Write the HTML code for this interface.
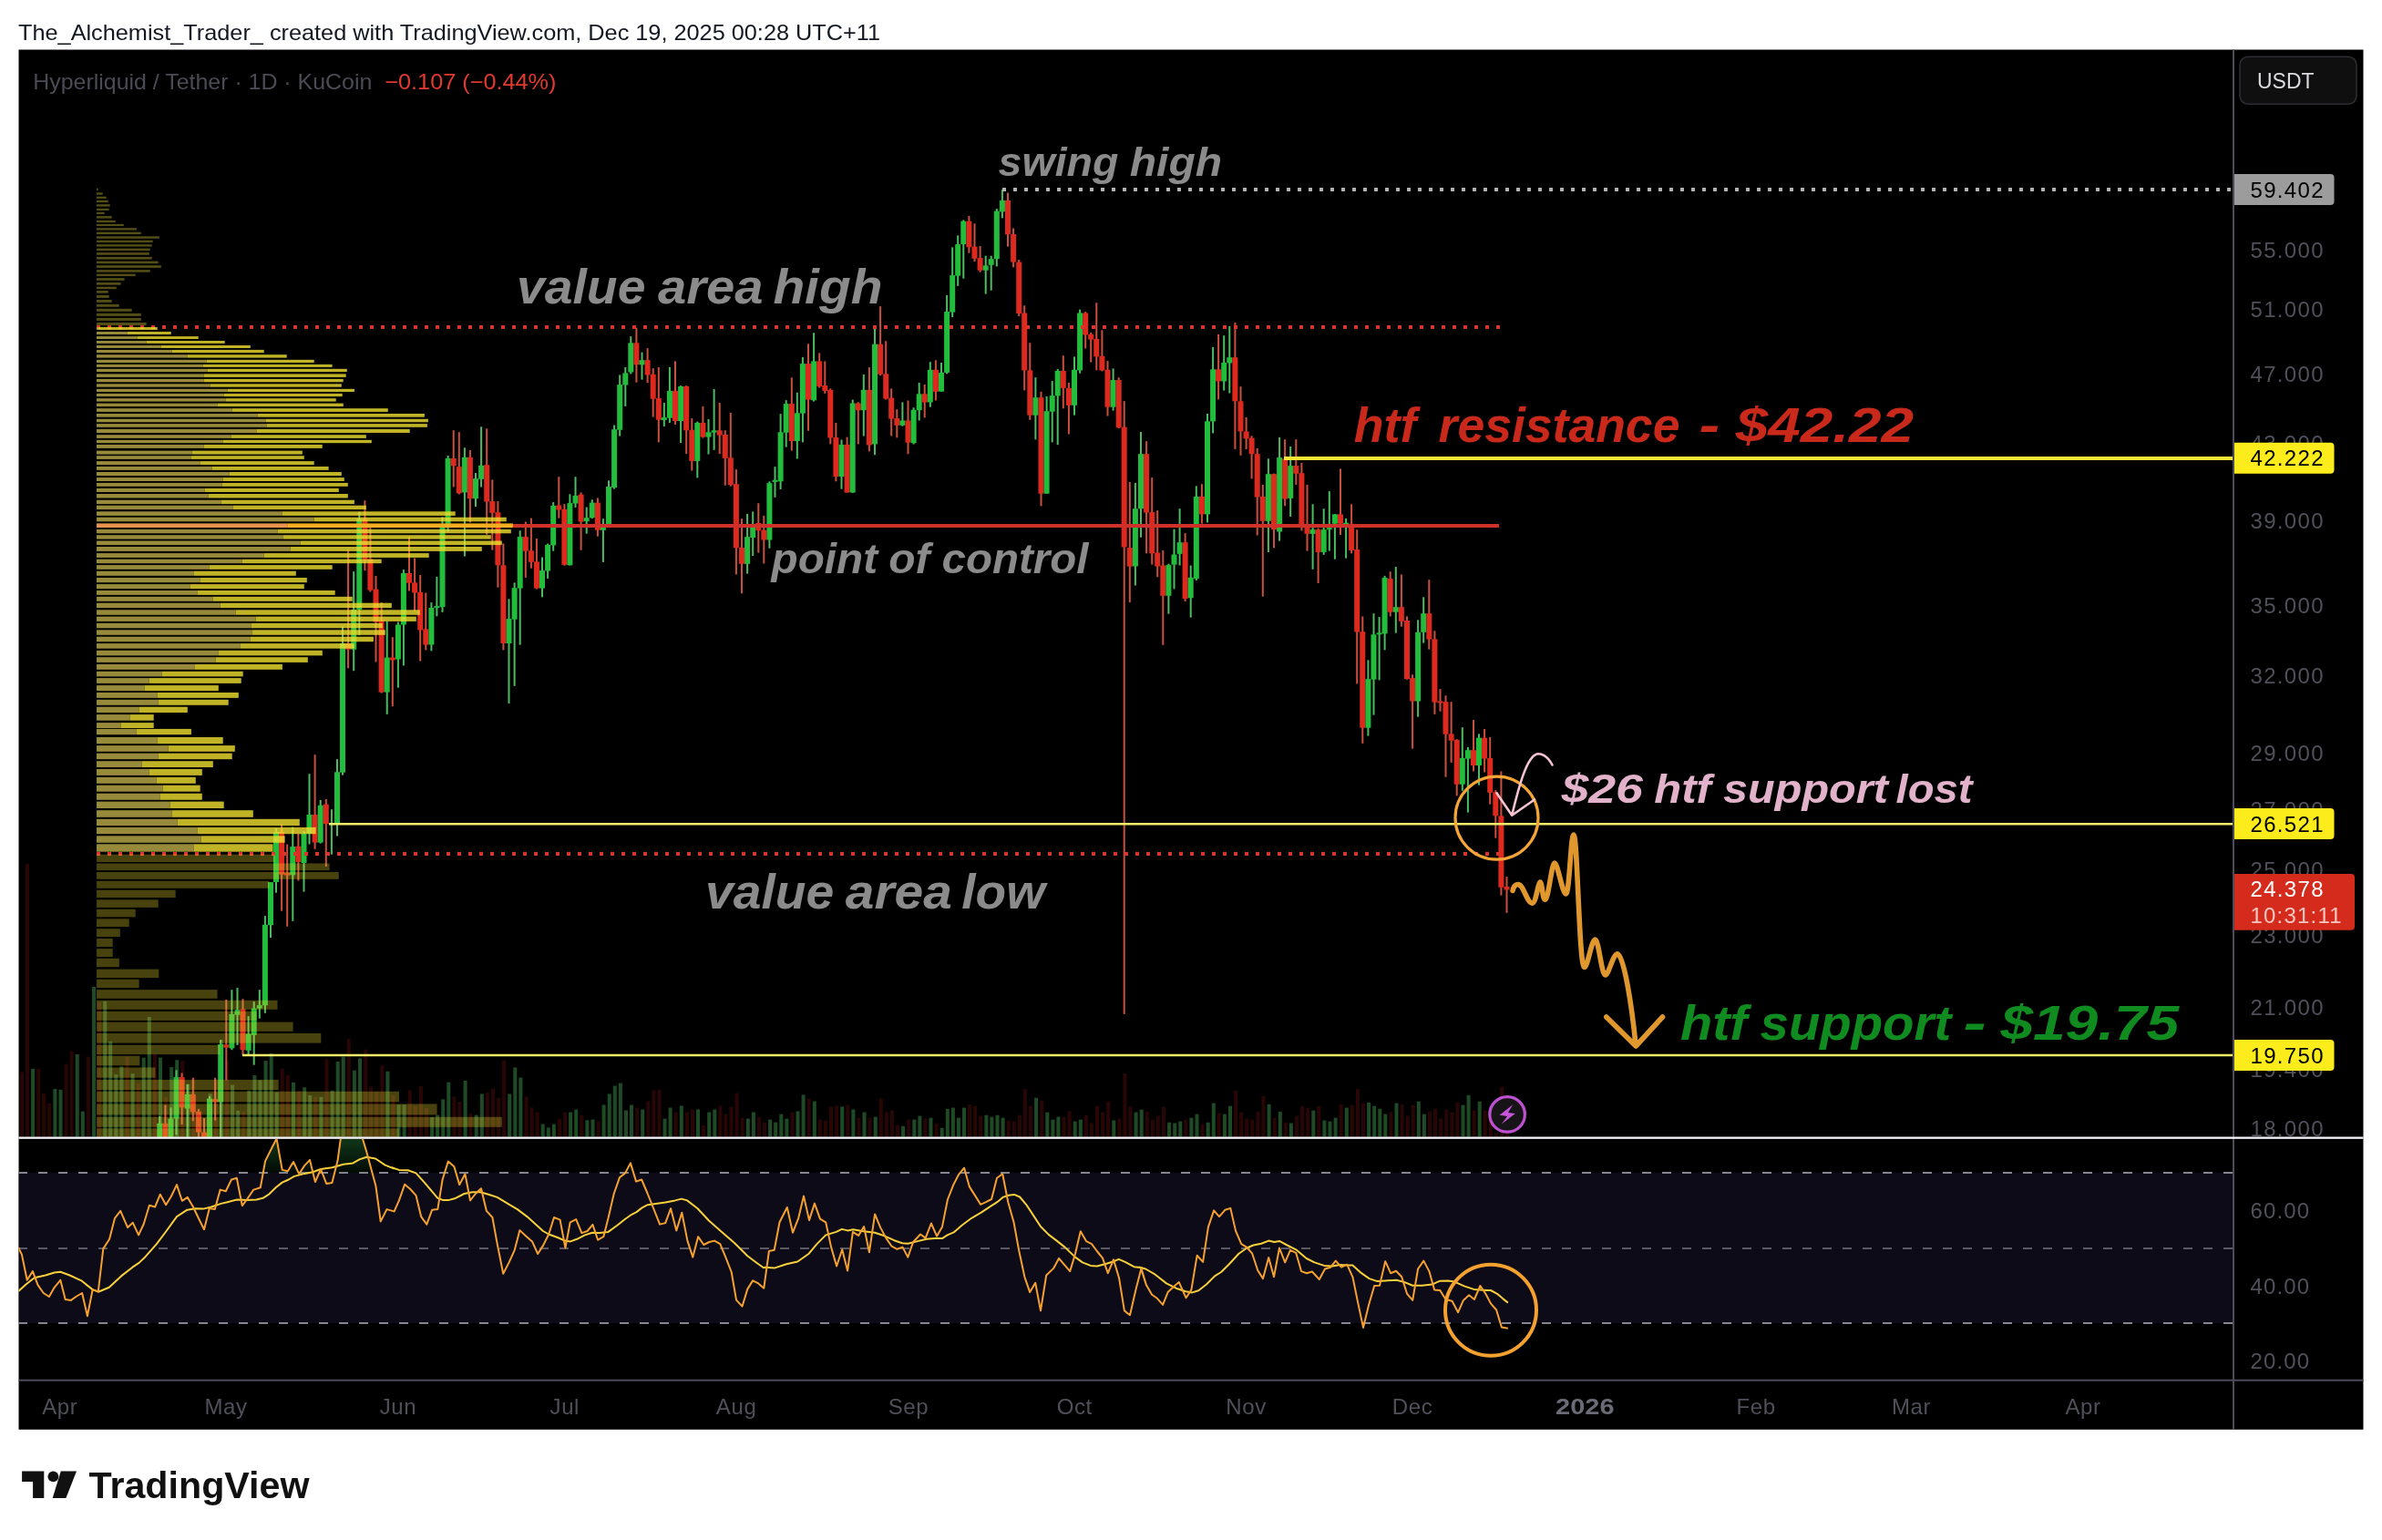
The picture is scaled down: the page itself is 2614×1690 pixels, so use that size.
<!DOCTYPE html>
<html><head><meta charset="utf-8"><title>HYPEUSDT chart</title><style>html,body{margin:0;padding:0;background:#fff}svg{display:block;will-change:transform}</style></head><body>
<svg width="2614" height="1690" viewBox="0 0 2614 1690" font-family='"Liberation Sans", sans-serif'>
<defs>
<clipPath id="cp"><rect x="20.5" y="54.5" width="2430.5" height="1193.5"/></clipPath>
<clipPath id="cr"><rect x="20.5" y="1250" width="2430.5" height="264"/></clipPath>
<clipPath id="c70"><rect x="21" y="1250" width="2430" height="37"/></clipPath>
<linearGradient id="gg" gradientUnits="userSpaceOnUse" x1="0" y1="1250" x2="0" y2="1287"><stop offset="0" stop-color="#1a5a2a" stop-opacity="0.6"/><stop offset="1" stop-color="#1a5a2a" stop-opacity="0.12"/></linearGradient>
</defs>
<rect width="2614" height="1690" fill="#fff"/>
<text x="20" y="44.3" font-size="24" fill="#131722" textLength="946" lengthAdjust="spacingAndGlyphs">The_Alchemist_Trader_ created with TradingView.com, Dec 19, 2025 00:28 UTC+11</text>
<rect x="20.5" y="54.5" width="2573" height="1514.3" fill="#000"/>
<g clip-path="url(#cr)">
<rect x="20.5" y="1287" width="2430.5" height="165" fill="#0e0b18"/>
<line x1="20" y1="1287" x2="2450" y2="1287" stroke="#8d8d99" stroke-width="2" stroke-dasharray="10 12" opacity="0.95"/>
<line x1="20" y1="1370" x2="2450" y2="1370" stroke="#8d8d99" stroke-width="2" stroke-dasharray="10 12" opacity="0.6"/>
<line x1="20" y1="1452" x2="2450" y2="1452" stroke="#8d8d99" stroke-width="2" stroke-dasharray="10 12" opacity="0.95"/>
<polygon clip-path="url(#c70)" points="20,1287 20,1368.6 23.9,1376.6 29.7,1404.8 35.9,1395.1 41.5,1410.1 47.7,1419 53.9,1423 59.7,1412.8 66.3,1404.8 71.7,1426 77.9,1426.9 84.1,1422.5 90.1,1419 95.9,1444.2 101.6,1415.4 107.8,1417.2 113.3,1370.4 120.1,1359.8 126,1336.8 132.2,1328.9 140.1,1347.1 145.8,1341.8 152.1,1355.4 157.8,1343 163.9,1322.7 170.1,1324.5 175.8,1310.7 182.1,1322.2 187.8,1313 194,1300.1 199.8,1317.8 205.8,1313.9 212,1324.5 217.8,1336.8 224,1349.2 229.8,1325.9 235.8,1327.1 241.7,1305.6 247.8,1307.2 254,1294.5 259.8,1292.7 265.8,1323.1 272,1314.8 278.2,1305.6 285.8,1303.3 291.1,1274.1 297.3,1261.8 303.5,1249.4 309.7,1283.9 315.8,1285.3 322,1275 328.2,1288.3 334,1279.4 340,1272.9 345.9,1297.1 352,1283 358.2,1298.9 364.4,1298 370.6,1273.3 375.9,1234.4 382.1,1220.3 388.2,1223.8 394.4,1237.9 402.4,1264.4 412.4,1301.5 417.7,1340.4 424.5,1327.1 432.4,1329.4 432.6,1329.4 437.9,1317.4 444.1,1299.8 450.3,1305 456.5,1311.8 462.1,1335.1 468.3,1343.6 474.2,1327.7 480.3,1327.1 485.6,1294.5 491.8,1274.5 498.4,1280.3 504.2,1300.1 510.4,1288.3 516,1317.4 522.2,1309.5 528,1304.2 533.9,1328.9 540.4,1336 545.7,1365.1 552.2,1397.8 558.6,1385.4 564.6,1372.2 570.4,1350.1 576.9,1356.3 584,1362.4 590.2,1376 596,1366.9 602.2,1354.5 608,1336 614.6,1338.6 620.4,1369.5 625.7,1341.3 632.2,1338.1 638.4,1353.1 644.6,1351 650.4,1343.9 656.1,1360.7 662.3,1357.2 667.5,1336.8 673.7,1310 679.9,1292.3 686.1,1287.4 691.9,1276.4 698.1,1296.6 704.1,1294.5 710.5,1309.5 716.5,1324.5 724.1,1343.6 730.2,1342.1 736.1,1326.2 742.3,1350.4 748.3,1330.7 754.4,1361.6 760.3,1379.6 766.1,1357.2 772.3,1366 778.3,1363 784.1,1361.6 790.3,1365.1 796.5,1380.1 802.7,1396 808,1426.6 814.5,1433.6 820.3,1414.6 826.1,1405.4 832.2,1408.4 838.3,1413.7 843.9,1373 849.7,1371.8 855.5,1341.3 863.8,1325 870,1352.7 876.2,1336.8 882,1312.6 888,1339.1 893.9,1320.6 900,1337.7 906.2,1341.3 912.1,1368.6 918.1,1389.5 924.2,1371.3 930.1,1394.6 935.9,1351.9 942.1,1355.9 948.1,1346 953.9,1374.3 960.1,1332.4 966.3,1347.4 972.5,1358.9 978.6,1367.7 984.5,1370.8 990.5,1368.6 996.3,1379.6 1002.1,1363 1010.1,1354.5 1015.7,1358.6 1021.9,1342.5 1028.1,1356.6 1033.9,1346.6 1039.9,1316.5 1046.1,1300.6 1051.9,1289.2 1058.1,1281.7 1063.9,1302.4 1070.1,1312.1 1076.1,1321.8 1082,1319.2 1088.1,1316 1094,1292.7 1100.2,1288.3 1106.3,1319.2 1112.5,1341.3 1118.2,1372.2 1124.4,1401.3 1130.2,1418.1 1136.2,1407.8 1142,1438.4 1148.2,1399.5 1156.1,1391.9 1162,1381 1168.2,1388.1 1174.2,1395.1 1180,1375.7 1185.8,1351.3 1192,1362.1 1198,1365.1 1203.8,1373 1210,1380.6 1215.8,1397.2 1222,1382.4 1228,1402.2 1233.9,1438.4 1240,1443.2 1246.2,1416.3 1252.4,1391.9 1258.2,1411 1252.1,1391.9 1257.9,1410.1 1264.1,1420.7 1269.8,1424.8 1276.1,1431.9 1281.8,1417.7 1288,1411.9 1293.8,1407.1 1301.6,1424.3 1307.4,1415.4 1313.6,1377.8 1320.1,1384.9 1325.9,1346.6 1332.1,1328.4 1338,1335.1 1344.5,1327.7 1350.3,1325.9 1356,1350.6 1362.2,1365.1 1368,1368.6 1374.2,1375.7 1380.3,1394.2 1386,1403.1 1392.2,1380.1 1398,1401.3 1404,1369.5 1410.2,1385.4 1416,1371.8 1422.2,1374.8 1428,1395.1 1434,1397.2 1439.9,1395.5 1447.8,1404 1454,1392.5 1460.2,1390.7 1465.8,1383.6 1472,1390.7 1478.2,1387.7 1484.4,1401.3 1490.2,1429.6 1496,1456.9 1502,1432.2 1508.2,1411 1514,1410.7 1520.2,1384.2 1526.1,1397.2 1532.1,1394.8 1538.2,1401.3 1544.1,1419.8 1550.2,1426.9 1556.1,1392.5 1562.3,1383.6 1568.4,1395.1 1574.1,1415.4 1580.3,1416 1586.5,1426 1593.5,1427.8 1600.1,1440.2 1605.9,1426.9 1612.1,1421.3 1617.9,1426 1624.4,1411 1630.3,1419.8 1635.9,1430.4 1642.1,1437.5 1647.9,1456.6 1654.8,1457.8 1654.8,1287" fill="url(#gg)"/>
<polyline points="20,1417.2 28.8,1409.3 37.7,1402.2 50,1399.5 59.7,1396.5 66.3,1395.7 76.5,1399.5 89.8,1405.7 101.2,1414.9 107.8,1417.7 119.8,1412.8 133,1400.4 145.4,1390.7 152.5,1385.9 159.5,1379.2 171.9,1365.1 182.5,1351 194,1335.1 205.4,1327.7 214.3,1326.2 223.1,1326.6 231.9,1324.5 242.5,1320.9 249.6,1319.2 260.2,1316.5 270.8,1316.9 281.4,1316.5 288.5,1314.8 295.5,1310.3 302.6,1303.3 309.7,1297.6 316.7,1294.5 322.9,1290.9 334.4,1287.9 343.2,1286.2 352,1283 364.4,1281.2 376.8,1277.7 387.4,1276.4 394.4,1272.4 402.4,1269.7 412.1,1271.5 422.7,1278.6 431.5,1282.1 430,1281.2 437.9,1283.9 447.7,1284.2 456.5,1287.4 465.3,1297.1 474.2,1307.7 480.3,1314.8 486.5,1317.1 491.8,1317.1 498.9,1315.3 509.5,1310 518.3,1308.2 527.1,1308.2 536,1310.7 545.7,1313.9 557.2,1320.9 567.8,1327.1 578.4,1335.1 587.2,1343 596,1351 602.2,1354.5 611.9,1358 619.9,1361.6 626,1362.4 633.1,1359.8 641.9,1355.4 649.9,1352.7 657.8,1353.1 667.5,1351.9 677.3,1344.8 686.1,1337.7 693.2,1332.8 698.5,1330.1 704.6,1325.4 710.8,1322.2 719.7,1320.9 730.2,1319.5 740.8,1317.4 747.9,1315.6 754.1,1317.4 765.6,1326.2 777.9,1339.5 792.1,1351.9 806.2,1364.2 820.3,1378.3 830.9,1386.3 838,1391.2 840,1390.7 849.7,1391.6 863,1387.2 875.3,1384.5 887.7,1375.7 896.5,1365.1 906.2,1355.4 917.7,1351.9 923.9,1348.9 930.1,1350.4 936.3,1349.2 946,1351 960.1,1352.7 970.7,1356.3 981.3,1361.2 990.1,1364.2 996.3,1364.7 1006,1362.4 1016.6,1359.8 1025.4,1358.9 1034.3,1358.9 1039.6,1355.4 1046.6,1352.4 1055.5,1344.8 1066.1,1336.8 1076.7,1330.7 1087.3,1323.6 1094.3,1319.2 1100.5,1313.9 1106.7,1311.8 1112.9,1310.9 1119.1,1313.5 1126.1,1321.8 1134.9,1335.1 1142,1346 1150.8,1354.9 1159.7,1361.6 1168.5,1368.6 1180,1379.6 1187.9,1385.4 1196.8,1388.9 1203.8,1389.5 1212.7,1387.2 1221.5,1384.5 1227.7,1381.9 1234.7,1384.9 1244.5,1390.2 1253.3,1391.2 1250,1390.7 1257.1,1392.5 1267.7,1398.7 1280,1408.4 1290.6,1413.7 1301.2,1417.2 1308.3,1418.4 1315.3,1416.3 1324.2,1409.3 1333,1400.4 1340.1,1396 1348.9,1387.2 1359.5,1375.7 1368.3,1369.5 1375.4,1366.5 1384.2,1364.7 1392.2,1361.6 1398.4,1363 1404,1361.9 1412.5,1366.5 1422.2,1371.3 1433.7,1381 1442.5,1385.4 1453.1,1388.9 1461.9,1389.5 1470.8,1388.1 1478.2,1388.4 1484.4,1388.4 1493.7,1396.9 1502.6,1403.1 1511.4,1406.1 1520.2,1405.4 1532.6,1404.8 1541.4,1407.1 1550.2,1410.7 1560.8,1410.7 1571.4,1409.6 1580.3,1405.7 1589.1,1405.4 1596.2,1406.6 1606.8,1411.4 1617.4,1414.9 1624.4,1415.4 1631.5,1416 1635.9,1416 1643,1419.8 1649.2,1425.1 1654.8,1429.6" fill="none" stroke="#f7d03c" stroke-width="2" stroke-linejoin="round"/>
<polyline points="20,1368.6 23.9,1376.6 29.7,1404.8 35.9,1395.1 41.5,1410.1 47.7,1419 53.9,1423 59.7,1412.8 66.3,1404.8 71.7,1426 77.9,1426.9 84.1,1422.5 90.1,1419 95.9,1444.2 101.6,1415.4 107.8,1417.2 113.3,1370.4 120.1,1359.8 126,1336.8 132.2,1328.9 140.1,1347.1 145.8,1341.8 152.1,1355.4 157.8,1343 163.9,1322.7 170.1,1324.5 175.8,1310.7 182.1,1322.2 187.8,1313 194,1300.1 199.8,1317.8 205.8,1313.9 212,1324.5 217.8,1336.8 224,1349.2 229.8,1325.9 235.8,1327.1 241.7,1305.6 247.8,1307.2 254,1294.5 259.8,1292.7 265.8,1323.1 272,1314.8 278.2,1305.6 285.8,1303.3 291.1,1274.1 297.3,1261.8 303.5,1249.4 309.7,1283.9 315.8,1285.3 322,1275 328.2,1288.3 334,1279.4 340,1272.9 345.9,1297.1 352,1283 358.2,1298.9 364.4,1298 370.6,1273.3 375.9,1234.4 382.1,1220.3 388.2,1223.8 394.4,1237.9 402.4,1264.4 412.4,1301.5 417.7,1340.4 424.5,1327.1 432.4,1329.4 432.6,1329.4 437.9,1317.4 444.1,1299.8 450.3,1305 456.5,1311.8 462.1,1335.1 468.3,1343.6 474.2,1327.7 480.3,1327.1 485.6,1294.5 491.8,1274.5 498.4,1280.3 504.2,1300.1 510.4,1288.3 516,1317.4 522.2,1309.5 528,1304.2 533.9,1328.9 540.4,1336 545.7,1365.1 552.2,1397.8 558.6,1385.4 564.6,1372.2 570.4,1350.1 576.9,1356.3 584,1362.4 590.2,1376 596,1366.9 602.2,1354.5 608,1336 614.6,1338.6 620.4,1369.5 625.7,1341.3 632.2,1338.1 638.4,1353.1 644.6,1351 650.4,1343.9 656.1,1360.7 662.3,1357.2 667.5,1336.8 673.7,1310 679.9,1292.3 686.1,1287.4 691.9,1276.4 698.1,1296.6 704.1,1294.5 710.5,1309.5 716.5,1324.5 724.1,1343.6 730.2,1342.1 736.1,1326.2 742.3,1350.4 748.3,1330.7 754.4,1361.6 760.3,1379.6 766.1,1357.2 772.3,1366 778.3,1363 784.1,1361.6 790.3,1365.1 796.5,1380.1 802.7,1396 808,1426.6 814.5,1433.6 820.3,1414.6 826.1,1405.4 832.2,1408.4 838.3,1413.7 843.9,1373 849.7,1371.8 855.5,1341.3 863.8,1325 870,1352.7 876.2,1336.8 882,1312.6 888,1339.1 893.9,1320.6 900,1337.7 906.2,1341.3 912.1,1368.6 918.1,1389.5 924.2,1371.3 930.1,1394.6 935.9,1351.9 942.1,1355.9 948.1,1346 953.9,1374.3 960.1,1332.4 966.3,1347.4 972.5,1358.9 978.6,1367.7 984.5,1370.8 990.5,1368.6 996.3,1379.6 1002.1,1363 1010.1,1354.5 1015.7,1358.6 1021.9,1342.5 1028.1,1356.6 1033.9,1346.6 1039.9,1316.5 1046.1,1300.6 1051.9,1289.2 1058.1,1281.7 1063.9,1302.4 1070.1,1312.1 1076.1,1321.8 1082,1319.2 1088.1,1316 1094,1292.7 1100.2,1288.3 1106.3,1319.2 1112.5,1341.3 1118.2,1372.2 1124.4,1401.3 1130.2,1418.1 1136.2,1407.8 1142,1438.4 1148.2,1399.5 1156.1,1391.9 1162,1381 1168.2,1388.1 1174.2,1395.1 1180,1375.7 1185.8,1351.3 1192,1362.1 1198,1365.1 1203.8,1373 1210,1380.6 1215.8,1397.2 1222,1382.4 1228,1402.2 1233.9,1438.4 1240,1443.2 1246.2,1416.3 1252.4,1391.9 1258.2,1411 1252.1,1391.9 1257.9,1410.1 1264.1,1420.7 1269.8,1424.8 1276.1,1431.9 1281.8,1417.7 1288,1411.9 1293.8,1407.1 1301.6,1424.3 1307.4,1415.4 1313.6,1377.8 1320.1,1384.9 1325.9,1346.6 1332.1,1328.4 1338,1335.1 1344.5,1327.7 1350.3,1325.9 1356,1350.6 1362.2,1365.1 1368,1368.6 1374.2,1375.7 1380.3,1394.2 1386,1403.1 1392.2,1380.1 1398,1401.3 1404,1369.5 1410.2,1385.4 1416,1371.8 1422.2,1374.8 1428,1395.1 1434,1397.2 1439.9,1395.5 1447.8,1404 1454,1392.5 1460.2,1390.7 1465.8,1383.6 1472,1390.7 1478.2,1387.7 1484.4,1401.3 1490.2,1429.6 1496,1456.9 1502,1432.2 1508.2,1411 1514,1410.7 1520.2,1384.2 1526.1,1397.2 1532.1,1394.8 1538.2,1401.3 1544.1,1419.8 1550.2,1426.9 1556.1,1392.5 1562.3,1383.6 1568.4,1395.1 1574.1,1415.4 1580.3,1416 1586.5,1426 1593.5,1427.8 1600.1,1440.2 1605.9,1426.9 1612.1,1421.3 1617.9,1426 1624.4,1411 1630.3,1419.8 1635.9,1430.4 1642.1,1437.5 1647.9,1456.6 1654.8,1457.8" fill="none" stroke="#f5a130" stroke-width="2" stroke-linejoin="round"/>
<circle cx="1636" cy="1437.8" r="50" fill="none" stroke="#f5a130" stroke-width="4"/>
</g>
<g clip-path="url(#cp)">
<rect x="21.9" y="1176.4" width="4" height="71.1" fill="#280606"/><rect x="28" y="948.1" width="4" height="299.4" fill="#280606"/><rect x="34.1" y="1172.9" width="4" height="74.6" fill="#1f4a26"/><rect x="40.2" y="1172.9" width="4" height="74.6" fill="#280606"/><rect x="46.3" y="1200.2" width="4" height="47.3" fill="#280606"/><rect x="52.3" y="1210.8" width="4" height="36.7" fill="#280606"/><rect x="58.4" y="1195" width="4" height="52.5" fill="#1f4a26"/><rect x="64.5" y="1195.8" width="4" height="51.7" fill="#1f4a26"/><rect x="70.6" y="1167.6" width="4" height="79.9" fill="#280606"/><rect x="76.7" y="1153.5" width="4" height="94" fill="#280606"/><rect x="82.7" y="1157" width="4" height="90.5" fill="#1f4a26"/><rect x="88.8" y="1219.6" width="4" height="27.9" fill="#1f4a26"/><rect x="94.9" y="1159.7" width="4" height="87.8" fill="#280606"/><rect x="101" y="1083" width="4" height="164.5" fill="#1f4a26"/><rect x="107.1" y="1099.7" width="4" height="147.8" fill="#280606"/><rect x="113.2" y="1098.8" width="4" height="148.7" fill="#1f4a26"/><rect x="119.2" y="1142.9" width="4" height="104.6" fill="#1f4a26"/><rect x="125.3" y="1179.1" width="4" height="68.4" fill="#1f4a26"/><rect x="131.4" y="1170.3" width="4" height="77.2" fill="#1f4a26"/><rect x="137.5" y="1159.7" width="4" height="87.8" fill="#280606"/><rect x="143.6" y="1178.2" width="4" height="69.3" fill="#1f4a26"/><rect x="149.7" y="1188.8" width="4" height="58.7" fill="#280606"/><rect x="155.7" y="1160.6" width="4" height="86.9" fill="#1f4a26"/><rect x="161.8" y="1116" width="4" height="131.5" fill="#1f4a26"/><rect x="167.9" y="1157" width="4" height="90.5" fill="#280606"/><rect x="174" y="1160.6" width="4" height="86.9" fill="#1f4a26"/><rect x="180.1" y="1203.8" width="4" height="43.7" fill="#280606"/><rect x="186.2" y="1171.1" width="4" height="76.4" fill="#1f4a26"/><rect x="192.2" y="1163.2" width="4" height="84.3" fill="#1f4a26"/><rect x="198.3" y="1164.1" width="4" height="83.4" fill="#280606"/><rect x="204.4" y="1189.7" width="4" height="57.8" fill="#1f4a26"/><rect x="210.5" y="1182.6" width="4" height="64.9" fill="#280606"/><rect x="216.6" y="1216.1" width="4" height="31.4" fill="#280606"/><rect x="222.7" y="1226.7" width="4" height="20.8" fill="#280606"/><rect x="228.7" y="1200.2" width="4" height="47.3" fill="#1f4a26"/><rect x="234.8" y="1183.5" width="4" height="64" fill="#280606"/><rect x="240.9" y="1141.2" width="4" height="106.3" fill="#1f4a26"/><rect x="247" y="1163.2" width="4" height="84.3" fill="#280606"/><rect x="253.1" y="1190.5" width="4" height="57" fill="#1f4a26"/><rect x="259.2" y="1218.8" width="4" height="28.7" fill="#1f4a26"/><rect x="265.2" y="1219.6" width="4" height="27.9" fill="#280606"/><rect x="271.3" y="1196.7" width="4" height="50.8" fill="#1f4a26"/><rect x="277.4" y="1180" width="4" height="67.5" fill="#1f4a26"/><rect x="283.5" y="1185.3" width="4" height="62.2" fill="#1f4a26"/><rect x="289.6" y="1164.1" width="4" height="83.4" fill="#1f4a26"/><rect x="295.7" y="1156.2" width="4" height="91.3" fill="#1f4a26"/><rect x="301.7" y="1198.5" width="4" height="49" fill="#1f4a26"/><rect x="307.8" y="1172.9" width="4" height="74.6" fill="#280606"/><rect x="313.9" y="1180" width="4" height="67.5" fill="#280606"/><rect x="320" y="1187.9" width="4" height="59.6" fill="#1f4a26"/><rect x="326.1" y="1196.7" width="4" height="50.8" fill="#280606"/><rect x="332.2" y="1193.2" width="4" height="54.3" fill="#1f4a26"/><rect x="338.2" y="1202" width="4" height="45.5" fill="#1f4a26"/><rect x="344.3" y="1203.8" width="4" height="43.7" fill="#280606"/><rect x="350.4" y="1203.8" width="4" height="43.7" fill="#1f4a26"/><rect x="356.5" y="1162.3" width="4" height="85.2" fill="#280606"/><rect x="362.6" y="1196.7" width="4" height="50.8" fill="#1f4a26"/><rect x="368.7" y="1165" width="4" height="82.5" fill="#1f4a26"/><rect x="374.7" y="1159.7" width="4" height="87.8" fill="#1f4a26"/><rect x="380.8" y="1139.9" width="4" height="107.6" fill="#280606"/><rect x="386.9" y="1174.7" width="4" height="72.8" fill="#1f4a26"/><rect x="393" y="1161.4" width="4" height="86.1" fill="#1f4a26"/><rect x="399.1" y="1151.7" width="4" height="95.8" fill="#280606"/><rect x="405.1" y="1192.3" width="4" height="55.2" fill="#280606"/><rect x="411.2" y="1197.6" width="4" height="49.9" fill="#280606"/><rect x="417.3" y="1169.4" width="4" height="78.1" fill="#280606"/><rect x="423.4" y="1175.6" width="4" height="71.9" fill="#1f4a26"/><rect x="429.5" y="1202" width="4" height="45.5" fill="#280606"/><rect x="435.6" y="1212.2" width="4" height="35.3" fill="#1f4a26"/><rect x="441.6" y="1212.2" width="4" height="35.3" fill="#1f4a26"/><rect x="447.7" y="1196.4" width="4" height="51.1" fill="#280606"/><rect x="453.8" y="1213.5" width="4" height="34" fill="#280606"/><rect x="459.9" y="1192.1" width="4" height="55.4" fill="#280606"/><rect x="466" y="1216" width="4" height="31.5" fill="#280606"/><rect x="472.1" y="1226.1" width="4" height="21.4" fill="#1f4a26"/><rect x="478.1" y="1223.6" width="4" height="23.9" fill="#1f4a26"/><rect x="484.2" y="1206.4" width="4" height="41.1" fill="#1f4a26"/><rect x="490.3" y="1187.6" width="4" height="59.9" fill="#1f4a26"/><rect x="496.4" y="1203.4" width="4" height="44.1" fill="#280606"/><rect x="502.5" y="1209" width="4" height="38.5" fill="#280606"/><rect x="508.6" y="1185.8" width="4" height="61.7" fill="#1f4a26"/><rect x="514.6" y="1222.3" width="4" height="25.2" fill="#280606"/><rect x="520.7" y="1223.6" width="4" height="23.9" fill="#1f4a26"/><rect x="526.8" y="1200.4" width="4" height="47.1" fill="#1f4a26"/><rect x="532.9" y="1198.9" width="4" height="48.6" fill="#280606"/><rect x="539" y="1194.6" width="4" height="52.9" fill="#280606"/><rect x="545.1" y="1204.7" width="4" height="42.8" fill="#280606"/><rect x="551.1" y="1163.6" width="4" height="83.9" fill="#280606"/><rect x="557.2" y="1200.4" width="4" height="47.1" fill="#1f4a26"/><rect x="563.3" y="1171.4" width="4" height="76.1" fill="#1f4a26"/><rect x="569.4" y="1182.5" width="4" height="65" fill="#1f4a26"/><rect x="575.5" y="1203.4" width="4" height="44.1" fill="#280606"/><rect x="581.6" y="1215.5" width="4" height="32" fill="#280606"/><rect x="587.6" y="1220.5" width="4" height="27" fill="#280606"/><rect x="593.7" y="1233.6" width="4" height="13.9" fill="#1f4a26"/><rect x="599.8" y="1237.4" width="4" height="10.1" fill="#1f4a26"/><rect x="605.9" y="1233.6" width="4" height="13.9" fill="#1f4a26"/><rect x="612" y="1227.9" width="4" height="19.6" fill="#280606"/><rect x="618.1" y="1220.5" width="4" height="27" fill="#280606"/><rect x="624.1" y="1220.5" width="4" height="27" fill="#1f4a26"/><rect x="630.2" y="1217.5" width="4" height="30" fill="#1f4a26"/><rect x="636.3" y="1223.6" width="4" height="23.9" fill="#280606"/><rect x="642.4" y="1229.4" width="4" height="18.1" fill="#1f4a26"/><rect x="648.5" y="1228.6" width="4" height="18.9" fill="#1f4a26"/><rect x="654.6" y="1230.6" width="4" height="16.9" fill="#280606"/><rect x="660.6" y="1212.5" width="4" height="35" fill="#1f4a26"/><rect x="666.7" y="1200.4" width="4" height="47.1" fill="#1f4a26"/><rect x="672.8" y="1191.6" width="4" height="55.9" fill="#1f4a26"/><rect x="678.9" y="1188.6" width="4" height="58.9" fill="#1f4a26"/><rect x="685" y="1218.5" width="4" height="29" fill="#1f4a26"/><rect x="691" y="1212.5" width="4" height="35" fill="#1f4a26"/><rect x="697.1" y="1215.5" width="4" height="32" fill="#280606"/><rect x="703.2" y="1217.5" width="4" height="30" fill="#1f4a26"/><rect x="709.3" y="1208.5" width="4" height="39" fill="#280606"/><rect x="715.4" y="1196.4" width="4" height="51.1" fill="#280606"/><rect x="721.5" y="1195.9" width="4" height="51.6" fill="#280606"/><rect x="727.5" y="1227.6" width="4" height="19.9" fill="#1f4a26"/><rect x="733.6" y="1215.5" width="4" height="32" fill="#1f4a26"/><rect x="739.7" y="1220.5" width="4" height="27" fill="#280606"/><rect x="745.8" y="1213.5" width="4" height="34" fill="#1f4a26"/><rect x="751.9" y="1220.5" width="4" height="27" fill="#280606"/><rect x="758" y="1217.5" width="4" height="30" fill="#280606"/><rect x="764" y="1217.5" width="4" height="30" fill="#1f4a26"/><rect x="770.1" y="1234.9" width="4" height="12.6" fill="#280606"/><rect x="776.2" y="1220.5" width="4" height="27" fill="#1f4a26"/><rect x="782.3" y="1217.5" width="4" height="30" fill="#1f4a26"/><rect x="788.4" y="1213.5" width="4" height="34" fill="#280606"/><rect x="794.5" y="1222.6" width="4" height="24.9" fill="#280606"/><rect x="800.5" y="1214.5" width="4" height="33" fill="#280606"/><rect x="806.6" y="1199.6" width="4" height="47.9" fill="#280606"/><rect x="812.7" y="1226.6" width="4" height="20.9" fill="#280606"/><rect x="818.8" y="1227.6" width="4" height="19.9" fill="#1f4a26"/><rect x="824.9" y="1220.5" width="4" height="27" fill="#1f4a26"/><rect x="831" y="1225.6" width="4" height="21.9" fill="#280606"/><rect x="837" y="1231.6" width="4" height="15.9" fill="#280606"/><rect x="843.1" y="1228.6" width="4" height="18.9" fill="#1f4a26"/><rect x="849.2" y="1231.6" width="4" height="15.9" fill="#1f4a26"/><rect x="855.3" y="1222.6" width="4" height="24.9" fill="#1f4a26"/><rect x="861.4" y="1227.6" width="4" height="19.9" fill="#1f4a26"/><rect x="867.5" y="1220.5" width="4" height="27" fill="#280606"/><rect x="873.5" y="1219.5" width="4" height="28" fill="#1f4a26"/><rect x="879.6" y="1201.4" width="4" height="46.1" fill="#1f4a26"/><rect x="885.7" y="1205.4" width="4" height="42.1" fill="#280606"/><rect x="891.8" y="1208.5" width="4" height="39" fill="#1f4a26"/><rect x="897.9" y="1228.6" width="4" height="18.9" fill="#280606"/><rect x="904" y="1229.6" width="4" height="17.9" fill="#280606"/><rect x="910" y="1214.5" width="4" height="33" fill="#280606"/><rect x="916.1" y="1213.5" width="4" height="34" fill="#280606"/><rect x="922.2" y="1214.5" width="4" height="33" fill="#1f4a26"/><rect x="928.3" y="1212.5" width="4" height="35" fill="#280606"/><rect x="934.4" y="1217.5" width="4" height="30" fill="#1f4a26"/><rect x="940.5" y="1226.6" width="4" height="20.9" fill="#280606"/><rect x="946.5" y="1220.5" width="4" height="27" fill="#1f4a26"/><rect x="952.6" y="1226.6" width="4" height="20.9" fill="#280606"/><rect x="958.7" y="1225.6" width="4" height="21.9" fill="#1f4a26"/><rect x="964.8" y="1205.4" width="4" height="42.1" fill="#280606"/><rect x="970.9" y="1220.5" width="4" height="27" fill="#280606"/><rect x="977" y="1218.5" width="4" height="29" fill="#280606"/><rect x="983" y="1234.7" width="4" height="12.8" fill="#280606"/><rect x="989.1" y="1235.7" width="4" height="11.8" fill="#1f4a26"/><rect x="995.2" y="1228.6" width="4" height="18.9" fill="#280606"/><rect x="1001.3" y="1228.6" width="4" height="18.9" fill="#1f4a26"/><rect x="1007.4" y="1224.6" width="4" height="22.9" fill="#1f4a26"/><rect x="1013.4" y="1227.6" width="4" height="19.9" fill="#280606"/><rect x="1019.5" y="1226.7" width="4" height="20.8" fill="#1f4a26"/><rect x="1025.6" y="1232.8" width="4" height="14.7" fill="#280606"/><rect x="1031.7" y="1237.8" width="4" height="9.7" fill="#1f4a26"/><rect x="1037.8" y="1217" width="4" height="30.5" fill="#1f4a26"/><rect x="1043.9" y="1215.6" width="4" height="31.9" fill="#1f4a26"/><rect x="1049.9" y="1226.7" width="4" height="20.8" fill="#1f4a26"/><rect x="1056" y="1215.6" width="4" height="31.9" fill="#1f4a26"/><rect x="1062.1" y="1212" width="4" height="35.5" fill="#280606"/><rect x="1068.2" y="1213.7" width="4" height="33.8" fill="#280606"/><rect x="1074.3" y="1224.5" width="4" height="23" fill="#280606"/><rect x="1080.4" y="1223.7" width="4" height="23.8" fill="#1f4a26"/><rect x="1086.4" y="1225.6" width="4" height="21.9" fill="#1f4a26"/><rect x="1092.5" y="1223.7" width="4" height="23.8" fill="#1f4a26"/><rect x="1098.6" y="1226.7" width="4" height="20.8" fill="#1f4a26"/><rect x="1104.7" y="1229.5" width="4" height="18" fill="#280606"/><rect x="1110.8" y="1230.6" width="4" height="16.9" fill="#280606"/><rect x="1116.9" y="1223.7" width="4" height="23.8" fill="#280606"/><rect x="1122.9" y="1194.9" width="4" height="52.6" fill="#280606"/><rect x="1129" y="1213.7" width="4" height="33.8" fill="#280606"/><rect x="1135.1" y="1204.8" width="4" height="42.7" fill="#1f4a26"/><rect x="1141.2" y="1207.6" width="4" height="39.9" fill="#280606"/><rect x="1147.3" y="1220.6" width="4" height="26.9" fill="#1f4a26"/><rect x="1153.4" y="1228.7" width="4" height="18.8" fill="#1f4a26"/><rect x="1159.4" y="1225.6" width="4" height="21.9" fill="#1f4a26"/><rect x="1165.5" y="1225.6" width="4" height="21.9" fill="#280606"/><rect x="1171.6" y="1219.2" width="4" height="28.3" fill="#280606"/><rect x="1177.7" y="1230.6" width="4" height="16.9" fill="#1f4a26"/><rect x="1183.8" y="1228.7" width="4" height="18.8" fill="#1f4a26"/><rect x="1189.9" y="1223.9" width="4" height="23.6" fill="#280606"/><rect x="1195.9" y="1232.3" width="4" height="15.2" fill="#280606"/><rect x="1202" y="1213.7" width="4" height="33.8" fill="#280606"/><rect x="1208.1" y="1220.6" width="4" height="26.9" fill="#280606"/><rect x="1214.2" y="1208.7" width="4" height="38.8" fill="#280606"/><rect x="1220.3" y="1229.5" width="4" height="18" fill="#1f4a26"/><rect x="1226.4" y="1227.5" width="4" height="20" fill="#280606"/><rect x="1232.4" y="1178" width="4" height="69.5" fill="#280606"/><rect x="1238.5" y="1214.5" width="4" height="33" fill="#280606"/><rect x="1244.6" y="1220.6" width="4" height="26.9" fill="#1f4a26"/><rect x="1250.7" y="1217.6" width="4" height="29.9" fill="#1f4a26"/><rect x="1256.8" y="1219.8" width="4" height="27.7" fill="#280606"/><rect x="1262.9" y="1228.7" width="4" height="18.8" fill="#280606"/><rect x="1268.9" y="1224.5" width="4" height="23" fill="#280606"/><rect x="1275" y="1214.5" width="4" height="33" fill="#280606"/><rect x="1281.1" y="1231.7" width="4" height="15.8" fill="#1f4a26"/><rect x="1287.2" y="1232.5" width="4" height="15" fill="#1f4a26"/><rect x="1293.3" y="1230.6" width="4" height="16.9" fill="#1f4a26"/><rect x="1299.3" y="1228.7" width="4" height="18.8" fill="#280606"/><rect x="1305.4" y="1226.7" width="4" height="20.8" fill="#1f4a26"/><rect x="1311.5" y="1222.6" width="4" height="24.9" fill="#1f4a26"/><rect x="1317.6" y="1233.6" width="4" height="13.9" fill="#280606"/><rect x="1323.7" y="1231.7" width="4" height="15.8" fill="#1f4a26"/><rect x="1329.8" y="1210.6" width="4" height="36.9" fill="#1f4a26"/><rect x="1335.8" y="1221.7" width="4" height="25.8" fill="#280606"/><rect x="1341.9" y="1222.6" width="4" height="24.9" fill="#1f4a26"/><rect x="1348" y="1213.7" width="4" height="33.8" fill="#1f4a26"/><rect x="1354.1" y="1196.8" width="4" height="50.7" fill="#280606"/><rect x="1360.2" y="1220.6" width="4" height="26.9" fill="#280606"/><rect x="1366.3" y="1227.5" width="4" height="20" fill="#280606"/><rect x="1372.3" y="1228.7" width="4" height="18.8" fill="#280606"/><rect x="1378.4" y="1219.8" width="4" height="27.7" fill="#280606"/><rect x="1384.5" y="1202.6" width="4" height="44.9" fill="#280606"/><rect x="1390.6" y="1211.8" width="4" height="35.7" fill="#1f4a26"/><rect x="1396.7" y="1226.7" width="4" height="20.8" fill="#280606"/><rect x="1402.8" y="1219.8" width="4" height="27.7" fill="#1f4a26"/><rect x="1408.8" y="1231.7" width="4" height="15.8" fill="#280606"/><rect x="1414.9" y="1232.5" width="4" height="15" fill="#1f4a26"/><rect x="1421" y="1224.5" width="4" height="23" fill="#280606"/><rect x="1427.1" y="1213.7" width="4" height="33.8" fill="#280606"/><rect x="1433.2" y="1215.6" width="4" height="31.9" fill="#280606"/><rect x="1439.3" y="1218.7" width="4" height="28.8" fill="#1f4a26"/><rect x="1445.3" y="1213.7" width="4" height="33.8" fill="#280606"/><rect x="1451.4" y="1229.5" width="4" height="18" fill="#1f4a26"/><rect x="1457.5" y="1230.6" width="4" height="16.9" fill="#1f4a26"/><rect x="1463.6" y="1226.7" width="4" height="20.8" fill="#1f4a26"/><rect x="1469.7" y="1211.8" width="4" height="35.7" fill="#280606"/><rect x="1475.8" y="1215.6" width="4" height="31.9" fill="#1f4a26"/><rect x="1481.8" y="1212.6" width="4" height="34.9" fill="#280606"/><rect x="1487.9" y="1194.9" width="4" height="52.6" fill="#280606"/><rect x="1494" y="1210.6" width="4" height="36.9" fill="#280606"/><rect x="1500.1" y="1209.8" width="4" height="37.7" fill="#1f4a26"/><rect x="1506.2" y="1213.7" width="4" height="33.8" fill="#1f4a26"/><rect x="1512.3" y="1216.7" width="4" height="30.8" fill="#1f4a26"/><rect x="1518.3" y="1222.6" width="4" height="24.9" fill="#1f4a26"/><rect x="1524.4" y="1220.6" width="4" height="26.9" fill="#280606"/><rect x="1530.5" y="1210.6" width="4" height="36.9" fill="#1f4a26"/><rect x="1536.6" y="1211.8" width="4" height="35.7" fill="#280606"/><rect x="1542.7" y="1224.5" width="4" height="23" fill="#280606"/><rect x="1548.8" y="1212.6" width="4" height="34.9" fill="#280606"/><rect x="1554.8" y="1208.7" width="4" height="38.8" fill="#1f4a26"/><rect x="1560.9" y="1222.6" width="4" height="24.9" fill="#1f4a26"/><rect x="1567" y="1219.8" width="4" height="27.7" fill="#280606"/><rect x="1573.1" y="1216.7" width="4" height="30.8" fill="#280606"/><rect x="1579.2" y="1227.5" width="4" height="20" fill="#280606"/><rect x="1585.2" y="1217.6" width="4" height="29.9" fill="#280606"/><rect x="1591.3" y="1220.6" width="4" height="26.9" fill="#280606"/><rect x="1597.4" y="1209.8" width="4" height="37.7" fill="#280606"/><rect x="1603.5" y="1212.6" width="4" height="34.9" fill="#1f4a26"/><rect x="1609.6" y="1201.8" width="4" height="45.7" fill="#1f4a26"/><rect x="1615.7" y="1218.7" width="4" height="28.8" fill="#280606"/><rect x="1621.7" y="1208.7" width="4" height="38.8" fill="#1f4a26"/><rect x="1627.8" y="1218.7" width="4" height="28.8" fill="#280606"/><rect x="1633.9" y="1223.9" width="4" height="23.6" fill="#280606"/><rect x="1640" y="1243.3" width="4" height="4.2" fill="#280606"/><rect x="1646.1" y="1192.6" width="4" height="54.9" fill="#280606"/><rect x="1652.2" y="1210.1" width="4" height="37.4" fill="#280606"/>
<rect x="174.3" y="1225" width="2" height="22.8" fill="#4cbc62"/><rect x="180.4" y="1212.7" width="2" height="35.1" fill="#c9503f"/><rect x="186.5" y="1215.3" width="2" height="32.5" fill="#4cbc62"/><rect x="192.5" y="1174.3" width="2" height="70.9" fill="#4cbc62"/><rect x="198.6" y="1177.5" width="2" height="56.6" fill="#c9503f"/><rect x="204.7" y="1189.9" width="2" height="57.9" fill="#4cbc62"/><rect x="210.8" y="1182.7" width="2" height="47.5" fill="#c9503f"/><rect x="216.9" y="1217.2" width="2" height="30.6" fill="#c9503f"/><rect x="223" y="1227" width="2" height="20.8" fill="#c9503f"/><rect x="229" y="1202.9" width="2" height="44.9" fill="#4cbc62"/><rect x="235.1" y="1182.7" width="2" height="46.9" fill="#c9503f"/><rect x="241.2" y="1141.1" width="2" height="106.7" fill="#4cbc62"/><rect x="247.3" y="1096.9" width="2" height="88.5" fill="#c9503f"/><rect x="253.4" y="1086.2" width="2" height="66" fill="#4cbc62"/><rect x="259.5" y="1084.1" width="2" height="62.9" fill="#4cbc62"/><rect x="265.5" y="1096.2" width="2" height="61.8" fill="#c9503f"/><rect x="271.6" y="1115.1" width="2" height="42.3" fill="#4cbc62"/><rect x="277.7" y="1099.2" width="2" height="69.5" fill="#4cbc62"/><rect x="283.8" y="1086.2" width="2" height="31.5" fill="#4cbc62"/><rect x="289.9" y="1005.1" width="2" height="106.7" fill="#4cbc62"/><rect x="296" y="968.1" width="2" height="60.8" fill="#4cbc62"/><rect x="302" y="909" width="2" height="70.7" fill="#4cbc62"/><rect x="308.1" y="904.6" width="2" height="95.1" fill="#c9503f"/><rect x="314.2" y="926.6" width="2" height="90.2" fill="#c9503f"/><rect x="320.3" y="907.5" width="2" height="103.3" fill="#4cbc62"/><rect x="326.4" y="914.9" width="2" height="51.6" fill="#c9503f"/><rect x="332.5" y="912" width="2" height="66.6" fill="#4cbc62"/><rect x="338.5" y="849.2" width="2" height="77.3" fill="#4cbc62"/><rect x="344.6" y="828.2" width="2" height="103.6" fill="#c9503f"/><rect x="350.7" y="877.9" width="2" height="47.7" fill="#4cbc62"/><rect x="356.8" y="876.9" width="2" height="74" fill="#c9503f"/><rect x="362.9" y="888.2" width="2" height="49.5" fill="#4cbc62"/><rect x="369" y="833.1" width="2" height="84.4" fill="#4cbc62"/><rect x="375" y="687.5" width="2" height="163.1" fill="#4cbc62"/><rect x="381.1" y="603.7" width="2" height="129.6" fill="#c9503f"/><rect x="387.2" y="627.1" width="2" height="109.1" fill="#4cbc62"/><rect x="393.3" y="561.8" width="2" height="135.4" fill="#4cbc62"/><rect x="399.4" y="549.2" width="2" height="77" fill="#c9503f"/><rect x="405.4" y="578.4" width="2" height="71.1" fill="#c9503f"/><rect x="411.5" y="632" width="2" height="94.5" fill="#c9503f"/><rect x="417.6" y="661.2" width="2" height="99.4" fill="#c9503f"/><rect x="423.7" y="681.6" width="2" height="102.3" fill="#4cbc62"/><rect x="429.8" y="699.2" width="2" height="76" fill="#c9503f"/><rect x="435.9" y="682.6" width="2" height="72.1" fill="#4cbc62"/><rect x="441.9" y="625.1" width="2" height="105.2" fill="#4cbc62"/><rect x="448" y="589.1" width="2" height="59.4" fill="#c9503f"/><rect x="454.1" y="612.5" width="2" height="58.4" fill="#c9503f"/><rect x="460.2" y="631" width="2" height="94.5" fill="#c9503f"/><rect x="466.3" y="650.5" width="2" height="62.9" fill="#c9503f"/><rect x="472.4" y="661.2" width="2" height="53.2" fill="#4cbc62"/><rect x="478.4" y="632.9" width="2" height="43.4" fill="#4cbc62"/><rect x="484.5" y="567.3" width="2" height="104.6" fill="#4cbc62"/><rect x="490.6" y="499.9" width="2" height="83.4" fill="#4cbc62"/><rect x="496.7" y="472.2" width="2" height="62.3" fill="#c9503f"/><rect x="502.8" y="474.2" width="2" height="68.2" fill="#c9503f"/><rect x="508.9" y="491.3" width="2" height="119.2" fill="#4cbc62"/><rect x="514.9" y="494" width="2" height="79.5" fill="#c9503f"/><rect x="521" y="519" width="2" height="37" fill="#4cbc62"/><rect x="527.1" y="468.3" width="2" height="66.2" fill="#4cbc62"/><rect x="533.2" y="470.3" width="2" height="116.5" fill="#c9503f"/><rect x="539.3" y="526.4" width="2" height="77.3" fill="#c9503f"/><rect x="545.4" y="550.1" width="2" height="94.5" fill="#c9503f"/><rect x="551.4" y="596.5" width="2" height="116.9" fill="#c9503f"/><rect x="557.5" y="657.3" width="2" height="114.6" fill="#4cbc62"/><rect x="563.6" y="639.4" width="2" height="113.4" fill="#4cbc62"/><rect x="569.7" y="582.3" width="2" height="125.3" fill="#4cbc62"/><rect x="575.8" y="572.5" width="2" height="61.4" fill="#c9503f"/><rect x="581.9" y="568.6" width="2" height="55.1" fill="#c9503f"/><rect x="587.9" y="591" width="2" height="55.5" fill="#c9503f"/><rect x="594" y="611.5" width="2" height="43.8" fill="#4cbc62"/><rect x="600.1" y="596.5" width="2" height="38.4" fill="#4cbc62"/><rect x="606.2" y="551.1" width="2" height="53.6" fill="#4cbc62"/><rect x="612.3" y="523.2" width="2" height="45.4" fill="#c9503f"/><rect x="618.4" y="553.1" width="2" height="67.6" fill="#c9503f"/><rect x="624.4" y="542.3" width="2" height="78.3" fill="#4cbc62"/><rect x="630.5" y="523.2" width="2" height="33.7" fill="#4cbc62"/><rect x="636.6" y="540.4" width="2" height="63.3" fill="#c9503f"/><rect x="642.7" y="556.5" width="2" height="29.2" fill="#4cbc62"/><rect x="648.8" y="548.3" width="2" height="20.8" fill="#4cbc62"/><rect x="654.9" y="546.4" width="2" height="42.3" fill="#c9503f"/><rect x="660.9" y="569.2" width="2" height="47.7" fill="#4cbc62"/><rect x="667" y="527.3" width="2" height="49.7" fill="#4cbc62"/><rect x="673.1" y="466.5" width="2" height="70.1" fill="#4cbc62"/><rect x="679.2" y="411.4" width="2" height="67.2" fill="#4cbc62"/><rect x="685.3" y="403" width="2" height="42.9" fill="#4cbc62"/><rect x="691.3" y="369.1" width="2" height="41.3" fill="#4cbc62"/><rect x="697.4" y="359.7" width="2" height="60" fill="#c9503f"/><rect x="703.5" y="386.6" width="2" height="30" fill="#4cbc62"/><rect x="709.6" y="382.1" width="2" height="38" fill="#c9503f"/><rect x="715.7" y="404.2" width="2" height="53.4" fill="#c9503f"/><rect x="721.8" y="403" width="2" height="82.4" fill="#c9503f"/><rect x="727.8" y="442" width="2" height="25.9" fill="#4cbc62"/><rect x="733.9" y="403" width="2" height="61" fill="#4cbc62"/><rect x="740" y="396.4" width="2" height="69.5" fill="#c9503f"/><rect x="746.1" y="423.1" width="2" height="62.9" fill="#4cbc62"/><rect x="752.2" y="423.1" width="2" height="75" fill="#c9503f"/><rect x="758.3" y="459.1" width="2" height="57.5" fill="#c9503f"/><rect x="764.3" y="462.6" width="2" height="61.8" fill="#4cbc62"/><rect x="770.4" y="445.9" width="2" height="34.7" fill="#c9503f"/><rect x="776.5" y="460.1" width="2" height="38.4" fill="#4cbc62"/><rect x="782.6" y="427" width="2" height="66.8" fill="#4cbc62"/><rect x="788.7" y="442" width="2" height="56.1" fill="#c9503f"/><rect x="794.8" y="472.3" width="2" height="60.4" fill="#c9503f"/><rect x="800.8" y="452.9" width="2" height="80.7" fill="#c9503f"/><rect x="806.9" y="515.2" width="2" height="115.3" fill="#c9503f"/><rect x="813" y="569.2" width="2" height="82" fill="#c9503f"/><rect x="819.1" y="563.9" width="2" height="65.7" fill="#4cbc62"/><rect x="825.2" y="561.4" width="2" height="48.7" fill="#4cbc62"/><rect x="831.3" y="552.2" width="2" height="54.5" fill="#c9503f"/><rect x="837.3" y="565.9" width="2" height="52.6" fill="#c9503f"/><rect x="843.4" y="528.3" width="2" height="73.4" fill="#4cbc62"/><rect x="849.5" y="512.1" width="2" height="33.7" fill="#4cbc62"/><rect x="855.6" y="454.2" width="2" height="82.8" fill="#4cbc62"/><rect x="861.7" y="439.2" width="2" height="51.4" fill="#4cbc62"/><rect x="867.8" y="414.3" width="2" height="80.3" fill="#c9503f"/><rect x="873.8" y="430.8" width="2" height="72.7" fill="#4cbc62"/><rect x="879.9" y="391.9" width="2" height="93.5" fill="#4cbc62"/><rect x="886" y="377.3" width="2" height="95.5" fill="#c9503f"/><rect x="892.1" y="365.2" width="2" height="75.4" fill="#4cbc62"/><rect x="898.2" y="387.4" width="2" height="38.2" fill="#c9503f"/><rect x="904.3" y="396.4" width="2" height="35.5" fill="#c9503f"/><rect x="910.3" y="426.4" width="2" height="61" fill="#c9503f"/><rect x="916.4" y="464" width="2" height="64.3" fill="#c9503f"/><rect x="922.5" y="482.5" width="2" height="54.2" fill="#4cbc62"/><rect x="928.6" y="479.6" width="2" height="61" fill="#c9503f"/><rect x="934.7" y="438.6" width="2" height="102.3" fill="#4cbc62"/><rect x="940.8" y="441.2" width="2" height="46.2" fill="#c9503f"/><rect x="946.8" y="410.9" width="2" height="67.6" fill="#4cbc62"/><rect x="952.9" y="403.1" width="2" height="92.3" fill="#c9503f"/><rect x="959" y="360.6" width="2" height="138.6" fill="#4cbc62"/><rect x="965.1" y="336.2" width="2" height="76" fill="#c9503f"/><rect x="971.2" y="374.2" width="2" height="64.3" fill="#c9503f"/><rect x="977.2" y="426.4" width="2" height="52" fill="#c9503f"/><rect x="983.3" y="449.2" width="2" height="31.2" fill="#c9503f"/><rect x="989.4" y="441.4" width="2" height="26.3" fill="#4cbc62"/><rect x="995.5" y="439.5" width="2" height="58.8" fill="#c9503f"/><rect x="1001.6" y="447.3" width="2" height="40.2" fill="#4cbc62"/><rect x="1007.7" y="420" width="2" height="41.5" fill="#4cbc62"/><rect x="1013.7" y="422" width="2" height="36.4" fill="#c9503f"/><rect x="1019.8" y="397.2" width="2" height="49.5" fill="#4cbc62"/><rect x="1025.9" y="395.3" width="2" height="44.2" fill="#c9503f"/><rect x="1032" y="398" width="2" height="31.8" fill="#4cbc62"/><rect x="1038.1" y="324" width="2" height="86.3" fill="#4cbc62"/><rect x="1044.2" y="271.4" width="2" height="76.6" fill="#4cbc62"/><rect x="1050.2" y="258.3" width="2" height="55.5" fill="#4cbc62"/><rect x="1056.3" y="241.4" width="2" height="64.3" fill="#4cbc62"/><rect x="1062.4" y="236.9" width="2" height="40.9" fill="#c9503f"/><rect x="1068.5" y="245.3" width="2" height="41.7" fill="#c9503f"/><rect x="1074.6" y="270" width="2" height="28.6" fill="#c9503f"/><rect x="1080.7" y="280.7" width="2" height="41.9" fill="#4cbc62"/><rect x="1086.7" y="280.7" width="2" height="38" fill="#4cbc62"/><rect x="1092.8" y="229.1" width="2" height="63.3" fill="#4cbc62"/><rect x="1098.9" y="208.2" width="2" height="31.2" fill="#4cbc62"/><rect x="1105" y="211.6" width="2" height="59" fill="#c9503f"/><rect x="1111.1" y="250.5" width="2" height="42.9" fill="#c9503f"/><rect x="1117.2" y="285" width="2" height="62" fill="#c9503f"/><rect x="1123.2" y="335.3" width="2" height="93.1" fill="#c9503f"/><rect x="1129.3" y="376.2" width="2" height="84.7" fill="#c9503f"/><rect x="1135.4" y="414.2" width="2" height="68.2" fill="#4cbc62"/><rect x="1141.5" y="429.8" width="2" height="125.6" fill="#c9503f"/><rect x="1147.6" y="435" width="2" height="106.7" fill="#4cbc62"/><rect x="1153.7" y="418.1" width="2" height="67.2" fill="#4cbc62"/><rect x="1159.7" y="405" width="2" height="83.2" fill="#4cbc62"/><rect x="1165.8" y="390.2" width="2" height="58.1" fill="#c9503f"/><rect x="1171.9" y="420" width="2" height="56.5" fill="#c9503f"/><rect x="1178" y="391.4" width="2" height="64.3" fill="#4cbc62"/><rect x="1184.1" y="339.6" width="2" height="70.1" fill="#4cbc62"/><rect x="1190.2" y="342.1" width="2" height="40.3" fill="#c9503f"/><rect x="1196.2" y="364.9" width="2" height="32.7" fill="#c9503f"/><rect x="1202.3" y="332.3" width="2" height="74" fill="#c9503f"/><rect x="1208.4" y="362.2" width="2" height="45.2" fill="#c9503f"/><rect x="1214.5" y="396.1" width="2" height="60.4" fill="#c9503f"/><rect x="1220.6" y="404.4" width="2" height="46.2" fill="#4cbc62"/><rect x="1226.7" y="414.2" width="2" height="55.9" fill="#c9503f"/><rect x="1232.7" y="440.1" width="2" height="672.8" fill="#c9503f"/><rect x="1238.8" y="529" width="2" height="132.1" fill="#c9503f"/><rect x="1244.9" y="529.9" width="2" height="112.6" fill="#4cbc62"/><rect x="1251" y="474" width="2" height="115.7" fill="#4cbc62"/><rect x="1257.1" y="484.2" width="2" height="123.1" fill="#c9503f"/><rect x="1263.2" y="524.1" width="2" height="95.5" fill="#c9503f"/><rect x="1269.2" y="560.1" width="2" height="73.1" fill="#c9503f"/><rect x="1275.3" y="604" width="2" height="103.8" fill="#c9503f"/><rect x="1281.4" y="618.6" width="2" height="55.1" fill="#4cbc62"/><rect x="1287.5" y="580.6" width="2" height="65.8" fill="#4cbc62"/><rect x="1293.6" y="558.2" width="2" height="62.3" fill="#4cbc62"/><rect x="1299.6" y="585.1" width="2" height="75" fill="#c9503f"/><rect x="1305.7" y="620.5" width="2" height="57.1" fill="#4cbc62"/><rect x="1311.8" y="533.3" width="2" height="103.8" fill="#4cbc62"/><rect x="1317.9" y="531.3" width="2" height="43.4" fill="#c9503f"/><rect x="1324" y="454" width="2" height="119.4" fill="#4cbc62"/><rect x="1330.1" y="380.9" width="2" height="94.5" fill="#4cbc62"/><rect x="1336.1" y="366.9" width="2" height="71.5" fill="#c9503f"/><rect x="1342.2" y="368.2" width="2" height="60.4" fill="#4cbc62"/><rect x="1348.3" y="357.9" width="2" height="73.6" fill="#4cbc62"/><rect x="1354.4" y="354" width="2" height="138.9" fill="#c9503f"/><rect x="1360.5" y="424.2" width="2" height="75.6" fill="#c9503f"/><rect x="1366.6" y="457.9" width="2" height="35.1" fill="#c9503f"/><rect x="1372.6" y="478.3" width="2" height="47.1" fill="#c9503f"/><rect x="1378.7" y="492" width="2" height="95.5" fill="#c9503f"/><rect x="1384.8" y="531.9" width="2" height="122.7" fill="#c9503f"/><rect x="1390.9" y="503.3" width="2" height="102.7" fill="#4cbc62"/><rect x="1397" y="519.6" width="2" height="81.8" fill="#c9503f"/><rect x="1403.1" y="479.9" width="2" height="113.8" fill="#4cbc62"/><rect x="1409.1" y="482.2" width="2" height="73.1" fill="#c9503f"/><rect x="1415.2" y="490" width="2" height="77" fill="#4cbc62"/><rect x="1421.3" y="482.2" width="2" height="49.7" fill="#c9503f"/><rect x="1427.4" y="507.9" width="2" height="74.6" fill="#c9503f"/><rect x="1433.5" y="531.9" width="2" height="72.7" fill="#c9503f"/><rect x="1439.6" y="553.3" width="2" height="71.5" fill="#4cbc62"/><rect x="1445.6" y="579.6" width="2" height="60.4" fill="#c9503f"/><rect x="1451.7" y="558.2" width="2" height="50.7" fill="#4cbc62"/><rect x="1457.8" y="539.1" width="2" height="65.5" fill="#4cbc62"/><rect x="1463.9" y="564" width="2" height="49.7" fill="#4cbc62"/><rect x="1470" y="514.4" width="2" height="72.7" fill="#c9503f"/><rect x="1476.1" y="568.9" width="2" height="43.8" fill="#4cbc62"/><rect x="1482.1" y="553.3" width="2" height="54" fill="#c9503f"/><rect x="1488.2" y="581.2" width="2" height="169.2" fill="#c9503f"/><rect x="1494.3" y="676.4" width="2" height="139.5" fill="#c9503f"/><rect x="1500.4" y="724.4" width="2" height="83.2" fill="#4cbc62"/><rect x="1506.5" y="673.2" width="2" height="111.4" fill="#4cbc62"/><rect x="1512.6" y="677.1" width="2" height="69.3" fill="#4cbc62"/><rect x="1518.6" y="631.9" width="2" height="81.5" fill="#4cbc62"/><rect x="1524.7" y="627.3" width="2" height="49.1" fill="#c9503f"/><rect x="1530.8" y="622.1" width="2" height="72.6" fill="#4cbc62"/><rect x="1536.9" y="630.4" width="2" height="57.2" fill="#c9503f"/><rect x="1543" y="676.4" width="2" height="69.3" fill="#c9503f"/><rect x="1549.1" y="740.3" width="2" height="81.3" fill="#c9503f"/><rect x="1555.1" y="680.3" width="2" height="106.4" fill="#4cbc62"/><rect x="1561.2" y="655.3" width="2" height="50.3" fill="#4cbc62"/><rect x="1567.3" y="636.2" width="2" height="76.4" fill="#c9503f"/><rect x="1573.4" y="692.3" width="2" height="91.6" fill="#c9503f"/><rect x="1579.5" y="756.1" width="2" height="24.6" fill="#c9503f"/><rect x="1585.5" y="763.3" width="2" height="89.4" fill="#c9503f"/><rect x="1591.6" y="770.2" width="2" height="66.7" fill="#c9503f"/><rect x="1597.7" y="811.2" width="2" height="62.1" fill="#c9503f"/><rect x="1603.8" y="798.2" width="2" height="69.6" fill="#4cbc62"/><rect x="1609.9" y="819.9" width="2" height="71.7" fill="#4cbc62"/><rect x="1616" y="790.1" width="2" height="56.3" fill="#c9503f"/><rect x="1622" y="805.4" width="2" height="56.2" fill="#4cbc62"/><rect x="1628.1" y="800" width="2" height="47.5" fill="#c9503f"/><rect x="1634.2" y="809" width="2" height="73.6" fill="#c9503f"/><rect x="1640.3" y="867" width="2" height="52.7" fill="#c9503f"/><rect x="1646.4" y="846.4" width="2" height="136.2" fill="#c9503f"/><rect x="1652.5" y="962.1" width="2" height="39.7" fill="#c9503f"/>
<rect x="172.3" y="1232.8" width="6" height="15" fill="#22bd3c"/><rect x="178.4" y="1232.8" width="6" height="15" fill="#de2a1e"/><rect x="184.5" y="1227.6" width="6" height="20.2" fill="#22bd3c"/><rect x="190.5" y="1182.1" width="6" height="45.5" fill="#22bd3c"/><rect x="196.6" y="1182.1" width="6" height="33.2" fill="#de2a1e"/><rect x="202.7" y="1201" width="6" height="15.6" fill="#22bd3c"/><rect x="208.8" y="1201" width="6" height="19.5" fill="#de2a1e"/><rect x="214.9" y="1219.8" width="6" height="22.8" fill="#de2a1e"/><rect x="221" y="1242.6" width="6" height="5.2" fill="#de2a1e"/><rect x="227" y="1205.5" width="6" height="42.3" fill="#22bd3c"/><rect x="233.1" y="1206.2" width="6" height="3.3" fill="#de2a1e"/><rect x="239.2" y="1146" width="6" height="63.4" fill="#22bd3c"/><rect x="245.3" y="1146.3" width="6" height="3.3" fill="#de2a1e"/><rect x="251.4" y="1112.9" width="6" height="37.4" fill="#22bd3c"/><rect x="257.5" y="1108.2" width="6" height="5.6" fill="#22bd3c"/><rect x="263.5" y="1107.3" width="6" height="44.9" fill="#de2a1e"/><rect x="269.6" y="1134.6" width="6" height="18.2" fill="#22bd3c"/><rect x="275.7" y="1106.6" width="6" height="29.3" fill="#22bd3c"/><rect x="281.8" y="1103.1" width="6" height="3.5" fill="#22bd3c"/><rect x="287.9" y="1014.8" width="6" height="88.5" fill="#22bd3c"/><rect x="294" y="968.1" width="6" height="47.1" fill="#22bd3c"/><rect x="300" y="912.9" width="6" height="55.1" fill="#22bd3c"/><rect x="306.1" y="912.9" width="6" height="46.8" fill="#de2a1e"/><rect x="312.2" y="957.7" width="6" height="2.9" fill="#de2a1e"/><rect x="318.3" y="929.1" width="6" height="31.2" fill="#22bd3c"/><rect x="324.4" y="928.7" width="6" height="17.3" fill="#de2a1e"/><rect x="330.5" y="914.9" width="6" height="32.1" fill="#22bd3c"/><rect x="336.5" y="894" width="6" height="20.8" fill="#22bd3c"/><rect x="342.6" y="894" width="6" height="30.6" fill="#de2a1e"/><rect x="348.7" y="883.7" width="6" height="40.9" fill="#22bd3c"/><rect x="354.8" y="882.7" width="6" height="21.4" fill="#de2a1e"/><rect x="360.9" y="903.2" width="6" height="2" fill="#22bd3c"/><rect x="367" y="847.3" width="6" height="56.9" fill="#22bd3c"/><rect x="373" y="706" width="6" height="141.7" fill="#22bd3c"/><rect x="379.1" y="706" width="6" height="6.8" fill="#de2a1e"/><rect x="385.2" y="669" width="6" height="43.8" fill="#22bd3c"/><rect x="391.3" y="569.6" width="6" height="99.4" fill="#22bd3c"/><rect x="397.4" y="569.6" width="6" height="44.8" fill="#de2a1e"/><rect x="403.4" y="613.5" width="6" height="34.1" fill="#de2a1e"/><rect x="409.5" y="646.6" width="6" height="36" fill="#de2a1e"/><rect x="415.6" y="680.7" width="6" height="78.9" fill="#de2a1e"/><rect x="421.7" y="721.6" width="6" height="38" fill="#22bd3c"/><rect x="427.8" y="721.6" width="6" height="2.9" fill="#de2a1e"/><rect x="433.9" y="685.5" width="6" height="38" fill="#22bd3c"/><rect x="439.9" y="629" width="6" height="56.5" fill="#22bd3c"/><rect x="446" y="629" width="6" height="10.7" fill="#de2a1e"/><rect x="452.1" y="639.4" width="6" height="11.1" fill="#de2a1e"/><rect x="458.2" y="649.9" width="6" height="41.5" fill="#de2a1e"/><rect x="464.3" y="690.4" width="6" height="17.1" fill="#de2a1e"/><rect x="470.4" y="667" width="6" height="40.5" fill="#22bd3c"/><rect x="476.4" y="665.1" width="6" height="2" fill="#22bd3c"/><rect x="482.5" y="578.4" width="6" height="87.7" fill="#22bd3c"/><rect x="488.6" y="503" width="6" height="74.4" fill="#22bd3c"/><rect x="494.7" y="503" width="6" height="8.2" fill="#de2a1e"/><rect x="500.8" y="512.1" width="6" height="29.2" fill="#de2a1e"/><rect x="506.9" y="501.8" width="6" height="38.6" fill="#22bd3c"/><rect x="512.9" y="501.8" width="6" height="45.4" fill="#de2a1e"/><rect x="519" y="525.2" width="6" height="22" fill="#22bd3c"/><rect x="525.1" y="510.8" width="6" height="15" fill="#22bd3c"/><rect x="531.2" y="510.2" width="6" height="40.3" fill="#de2a1e"/><rect x="537.3" y="550.1" width="6" height="12.7" fill="#de2a1e"/><rect x="543.4" y="562.2" width="6" height="58.1" fill="#de2a1e"/><rect x="549.4" y="620.3" width="6" height="85.7" fill="#de2a1e"/><rect x="555.5" y="679.1" width="6" height="26.9" fill="#22bd3c"/><rect x="561.6" y="645.2" width="6" height="34.5" fill="#22bd3c"/><rect x="567.7" y="589.1" width="6" height="56.5" fill="#22bd3c"/><rect x="573.8" y="589.1" width="6" height="15.6" fill="#de2a1e"/><rect x="579.9" y="604.3" width="6" height="12.5" fill="#de2a1e"/><rect x="585.9" y="616.4" width="6" height="29.2" fill="#de2a1e"/><rect x="592" y="626.1" width="6" height="19.5" fill="#22bd3c"/><rect x="598.1" y="597.9" width="6" height="28.6" fill="#22bd3c"/><rect x="604.2" y="555" width="6" height="43.4" fill="#22bd3c"/><rect x="610.3" y="554.6" width="6" height="4.9" fill="#de2a1e"/><rect x="616.4" y="558.9" width="6" height="61" fill="#de2a1e"/><rect x="622.4" y="552.1" width="6" height="68.2" fill="#22bd3c"/><rect x="628.5" y="543.9" width="6" height="8.6" fill="#22bd3c"/><rect x="634.6" y="542.7" width="6" height="29.8" fill="#de2a1e"/><rect x="640.7" y="568.2" width="6" height="3.9" fill="#22bd3c"/><rect x="646.8" y="551.6" width="6" height="16.6" fill="#22bd3c"/><rect x="652.9" y="551.6" width="6" height="30.2" fill="#de2a1e"/><rect x="658.9" y="578.9" width="6" height="2.9" fill="#22bd3c"/><rect x="665" y="534.1" width="6" height="41.9" fill="#22bd3c"/><rect x="671.1" y="471.2" width="6" height="63.9" fill="#22bd3c"/><rect x="677.2" y="422.1" width="6" height="49.7" fill="#22bd3c"/><rect x="683.3" y="409.4" width="6" height="13.1" fill="#22bd3c"/><rect x="689.3" y="376.3" width="6" height="32.1" fill="#22bd3c"/><rect x="695.4" y="376.3" width="6" height="24" fill="#de2a1e"/><rect x="701.5" y="395.2" width="6" height="5.1" fill="#22bd3c"/><rect x="707.6" y="395.2" width="6" height="16.2" fill="#de2a1e"/><rect x="713.7" y="410.8" width="6" height="26.9" fill="#de2a1e"/><rect x="719.8" y="437.1" width="6" height="23.6" fill="#de2a1e"/><rect x="725.8" y="458.1" width="6" height="2.9" fill="#22bd3c"/><rect x="731.9" y="428.9" width="6" height="29.8" fill="#22bd3c"/><rect x="738" y="428.9" width="6" height="33.1" fill="#de2a1e"/><rect x="744.1" y="424" width="6" height="38" fill="#22bd3c"/><rect x="750.2" y="424" width="6" height="48.3" fill="#de2a1e"/><rect x="756.3" y="471.8" width="6" height="34.1" fill="#de2a1e"/><rect x="762.3" y="464" width="6" height="41.9" fill="#22bd3c"/><rect x="768.4" y="464" width="6" height="15.6" fill="#de2a1e"/><rect x="774.5" y="474.3" width="6" height="5.3" fill="#22bd3c"/><rect x="780.6" y="472.3" width="6" height="2.3" fill="#22bd3c"/><rect x="786.7" y="472.3" width="6" height="5.3" fill="#de2a1e"/><rect x="792.8" y="477" width="6" height="25.9" fill="#de2a1e"/><rect x="798.8" y="502.3" width="6" height="29.8" fill="#de2a1e"/><rect x="804.9" y="531.2" width="6" height="70.1" fill="#de2a1e"/><rect x="811" y="600.9" width="6" height="17.9" fill="#de2a1e"/><rect x="817.1" y="589.2" width="6" height="29.6" fill="#22bd3c"/><rect x="823.2" y="578.9" width="6" height="11.1" fill="#22bd3c"/><rect x="829.3" y="574" width="6" height="8.2" fill="#de2a1e"/><rect x="835.3" y="581.8" width="6" height="10.7" fill="#de2a1e"/><rect x="841.4" y="530.2" width="6" height="62.3" fill="#22bd3c"/><rect x="847.5" y="526.9" width="6" height="2" fill="#22bd3c"/><rect x="853.6" y="474.3" width="6" height="54" fill="#22bd3c"/><rect x="859.7" y="443.1" width="6" height="31.6" fill="#22bd3c"/><rect x="865.8" y="443.1" width="6" height="40.9" fill="#de2a1e"/><rect x="871.8" y="453.3" width="6" height="30.8" fill="#22bd3c"/><rect x="877.9" y="399.1" width="6" height="54.5" fill="#22bd3c"/><rect x="884" y="399.1" width="6" height="39.5" fill="#de2a1e"/><rect x="890.1" y="396.4" width="6" height="42.9" fill="#22bd3c"/><rect x="896.2" y="396.4" width="6" height="27.7" fill="#de2a1e"/><rect x="902.3" y="423.1" width="6" height="5.8" fill="#de2a1e"/><rect x="908.3" y="427.9" width="6" height="52.6" fill="#de2a1e"/><rect x="914.4" y="480.1" width="6" height="42.9" fill="#de2a1e"/><rect x="920.5" y="487.9" width="6" height="35.1" fill="#22bd3c"/><rect x="926.6" y="487.9" width="6" height="52.6" fill="#de2a1e"/><rect x="932.7" y="442.5" width="6" height="98" fill="#22bd3c"/><rect x="938.8" y="442.5" width="6" height="7.8" fill="#de2a1e"/><rect x="944.8" y="427.8" width="6" height="22.4" fill="#22bd3c"/><rect x="950.9" y="427.8" width="6" height="60.7" fill="#de2a1e"/><rect x="957" y="377.7" width="6" height="109.8" fill="#22bd3c"/><rect x="963.1" y="377.7" width="6" height="33.1" fill="#de2a1e"/><rect x="969.2" y="410.3" width="6" height="27.3" fill="#de2a1e"/><rect x="975.2" y="436.6" width="6" height="23" fill="#de2a1e"/><rect x="981.3" y="459" width="6" height="7.8" fill="#de2a1e"/><rect x="987.4" y="461.5" width="6" height="5.3" fill="#22bd3c"/><rect x="993.5" y="461.5" width="6" height="24.1" fill="#de2a1e"/><rect x="999.6" y="449.8" width="6" height="36.4" fill="#22bd3c"/><rect x="1005.7" y="432.3" width="6" height="17.9" fill="#22bd3c"/><rect x="1011.7" y="432.3" width="6" height="9.2" fill="#de2a1e"/><rect x="1017.8" y="405.8" width="6" height="35.7" fill="#22bd3c"/><rect x="1023.9" y="405.8" width="6" height="24" fill="#de2a1e"/><rect x="1030" y="408.9" width="6" height="20.8" fill="#22bd3c"/><rect x="1036.1" y="342.1" width="6" height="66.8" fill="#22bd3c"/><rect x="1042.2" y="302.1" width="6" height="40.5" fill="#22bd3c"/><rect x="1048.2" y="268.1" width="6" height="34.5" fill="#22bd3c"/><rect x="1054.3" y="242.7" width="6" height="25.3" fill="#22bd3c"/><rect x="1060.4" y="242.7" width="6" height="28.6" fill="#de2a1e"/><rect x="1066.5" y="270.6" width="6" height="13.1" fill="#de2a1e"/><rect x="1072.6" y="283.1" width="6" height="13.6" fill="#de2a1e"/><rect x="1078.7" y="291.4" width="6" height="5.3" fill="#22bd3c"/><rect x="1084.7" y="284.2" width="6" height="6.6" fill="#22bd3c"/><rect x="1090.8" y="231.6" width="6" height="52.6" fill="#22bd3c"/><rect x="1096.9" y="219.9" width="6" height="12.5" fill="#22bd3c"/><rect x="1103" y="219.9" width="6" height="37.4" fill="#de2a1e"/><rect x="1109.1" y="257" width="6" height="30.6" fill="#de2a1e"/><rect x="1115.2" y="287.5" width="6" height="56.5" fill="#de2a1e"/><rect x="1121.2" y="343.5" width="6" height="62.9" fill="#de2a1e"/><rect x="1127.3" y="406.4" width="6" height="49.3" fill="#de2a1e"/><rect x="1133.4" y="436.2" width="6" height="19.5" fill="#22bd3c"/><rect x="1139.5" y="436.2" width="6" height="105.5" fill="#de2a1e"/><rect x="1145.6" y="451.2" width="6" height="90.5" fill="#22bd3c"/><rect x="1151.7" y="434.2" width="6" height="17.5" fill="#22bd3c"/><rect x="1157.7" y="407" width="6" height="27.3" fill="#22bd3c"/><rect x="1163.8" y="407" width="6" height="18.9" fill="#de2a1e"/><rect x="1169.9" y="425.9" width="6" height="18.9" fill="#de2a1e"/><rect x="1176" y="405.8" width="6" height="39" fill="#22bd3c"/><rect x="1182.1" y="343.5" width="6" height="62.9" fill="#22bd3c"/><rect x="1188.2" y="343.5" width="6" height="24" fill="#de2a1e"/><rect x="1194.2" y="366.8" width="6" height="5.8" fill="#de2a1e"/><rect x="1200.3" y="371.9" width="6" height="19.5" fill="#de2a1e"/><rect x="1206.4" y="390.8" width="6" height="15.6" fill="#de2a1e"/><rect x="1212.5" y="405.8" width="6" height="40.9" fill="#de2a1e"/><rect x="1218.6" y="417.1" width="6" height="29.6" fill="#22bd3c"/><rect x="1224.7" y="417.1" width="6" height="52.2" fill="#de2a1e"/><rect x="1230.7" y="468.7" width="6" height="131.8" fill="#de2a1e"/><rect x="1236.8" y="601.1" width="6" height="20.5" fill="#de2a1e"/><rect x="1242.9" y="558.2" width="6" height="63.3" fill="#22bd3c"/><rect x="1249" y="498.2" width="6" height="60" fill="#22bd3c"/><rect x="1255.1" y="498.2" width="6" height="64.3" fill="#de2a1e"/><rect x="1261.2" y="562.1" width="6" height="45.2" fill="#de2a1e"/><rect x="1267.2" y="606.5" width="6" height="15" fill="#de2a1e"/><rect x="1273.3" y="620.5" width="6" height="33.3" fill="#de2a1e"/><rect x="1279.4" y="620.1" width="6" height="33.7" fill="#22bd3c"/><rect x="1285.5" y="608.5" width="6" height="11.1" fill="#22bd3c"/><rect x="1291.6" y="595.2" width="6" height="12.7" fill="#22bd3c"/><rect x="1297.6" y="595.2" width="6" height="61.9" fill="#de2a1e"/><rect x="1303.7" y="633.8" width="6" height="22.4" fill="#22bd3c"/><rect x="1309.8" y="544.9" width="6" height="90.2" fill="#22bd3c"/><rect x="1315.9" y="544.9" width="6" height="19.5" fill="#de2a1e"/><rect x="1322" y="462.3" width="6" height="102.1" fill="#22bd3c"/><rect x="1328.1" y="405.3" width="6" height="57.1" fill="#22bd3c"/><rect x="1334.1" y="405.3" width="6" height="13.1" fill="#de2a1e"/><rect x="1340.2" y="398.1" width="6" height="20.3" fill="#22bd3c"/><rect x="1346.3" y="392.2" width="6" height="6.2" fill="#22bd3c"/><rect x="1352.4" y="392.2" width="6" height="48.1" fill="#de2a1e"/><rect x="1358.5" y="440.3" width="6" height="33.1" fill="#de2a1e"/><rect x="1364.6" y="473.5" width="6" height="7.8" fill="#de2a1e"/><rect x="1370.6" y="480.7" width="6" height="17.5" fill="#de2a1e"/><rect x="1376.7" y="498.2" width="6" height="47.3" fill="#de2a1e"/><rect x="1382.8" y="544.9" width="6" height="26.9" fill="#de2a1e"/><rect x="1388.9" y="520.2" width="6" height="51.6" fill="#22bd3c"/><rect x="1395" y="520.2" width="6" height="61" fill="#de2a1e"/><rect x="1401.1" y="502.1" width="6" height="81.4" fill="#22bd3c"/><rect x="1407.1" y="503.3" width="6" height="44.2" fill="#de2a1e"/><rect x="1413.2" y="511.1" width="6" height="35.8" fill="#22bd3c"/><rect x="1419.3" y="511.1" width="6" height="8.6" fill="#de2a1e"/><rect x="1425.4" y="519.2" width="6" height="56.9" fill="#de2a1e"/><rect x="1431.5" y="575.7" width="6" height="10.1" fill="#de2a1e"/><rect x="1437.6" y="581.2" width="6" height="4.7" fill="#22bd3c"/><rect x="1443.6" y="581.2" width="6" height="24.7" fill="#de2a1e"/><rect x="1449.7" y="581.2" width="6" height="24.7" fill="#22bd3c"/><rect x="1455.8" y="579.2" width="6" height="2" fill="#22bd3c"/><rect x="1461.9" y="564.4" width="6" height="10.3" fill="#22bd3c"/><rect x="1468" y="564.4" width="6" height="10.3" fill="#de2a1e"/><rect x="1474.1" y="573.8" width="6" height="2.3" fill="#22bd3c"/><rect x="1480.1" y="574.8" width="6" height="29.2" fill="#de2a1e"/><rect x="1486.2" y="603.1" width="6" height="90.4" fill="#de2a1e"/><rect x="1492.3" y="693.2" width="6" height="105.5" fill="#de2a1e"/><rect x="1498.4" y="745.2" width="6" height="53.5" fill="#22bd3c"/><rect x="1504.5" y="696.3" width="6" height="49.4" fill="#22bd3c"/><rect x="1510.6" y="694.3" width="6" height="2" fill="#22bd3c"/><rect x="1516.6" y="634" width="6" height="61.4" fill="#22bd3c"/><rect x="1522.7" y="635.1" width="6" height="36.6" fill="#de2a1e"/><rect x="1528.8" y="666.2" width="6" height="5.5" fill="#22bd3c"/><rect x="1534.9" y="666.2" width="6" height="15.6" fill="#de2a1e"/><rect x="1541" y="681" width="6" height="64.2" fill="#de2a1e"/><rect x="1547.1" y="744.1" width="6" height="25.4" fill="#de2a1e"/><rect x="1553.1" y="693.8" width="6" height="75.7" fill="#22bd3c"/><rect x="1559.2" y="673.2" width="6" height="20.6" fill="#22bd3c"/><rect x="1565.3" y="673.2" width="6" height="28.4" fill="#de2a1e"/><rect x="1571.4" y="701.3" width="6" height="69.3" fill="#de2a1e"/><rect x="1577.5" y="769.5" width="6" height="2" fill="#de2a1e"/><rect x="1583.5" y="770.2" width="6" height="35.5" fill="#de2a1e"/><rect x="1589.6" y="805.4" width="6" height="7.3" fill="#de2a1e"/><rect x="1595.7" y="811.9" width="6" height="48.8" fill="#de2a1e"/><rect x="1601.8" y="831.9" width="6" height="28.8" fill="#22bd3c"/><rect x="1607.9" y="823.2" width="6" height="9.4" fill="#22bd3c"/><rect x="1614" y="823.2" width="6" height="16.8" fill="#de2a1e"/><rect x="1620" y="809.7" width="6" height="30.3" fill="#22bd3c"/><rect x="1626.1" y="809.7" width="6" height="22.8" fill="#de2a1e"/><rect x="1632.2" y="831.9" width="6" height="37.9" fill="#de2a1e"/><rect x="1638.3" y="869.3" width="6" height="26" fill="#de2a1e"/><rect x="1644.4" y="895.4" width="6" height="78.4" fill="#de2a1e"/><rect x="1650.5" y="973" width="6" height="3.4" fill="#de2a1e"/>
<line x1="106" y1="577" x2="1645" y2="577" stroke="#d0302a" stroke-width="4"/>
<line x1="106" y1="359" x2="1646" y2="359" stroke="#d8352c" stroke-width="4" stroke-dasharray="4 8"/>
<line x1="106" y1="937" x2="1646" y2="937" stroke="#d8352c" stroke-width="4" stroke-dasharray="4 8"/>
<rect x="106" y="206.6" width="1.6" height="2.5" fill="#f0e440" opacity="0.34"/><rect x="106" y="211.3" width="6.7" height="2.4" fill="#f0e440" opacity="0.34"/><rect x="106" y="215.7" width="10.7" height="2.2" fill="#f0e440" opacity="0.34"/><rect x="106" y="219.8" width="12.7" height="2.3" fill="#f0e440" opacity="0.34"/><rect x="106" y="224.2" width="14.7" height="2.4" fill="#f0e440" opacity="0.34"/><rect x="106" y="228.8" width="13.7" height="2.2" fill="#f0e440" opacity="0.34"/><rect x="106" y="232.8" width="8.7" height="2.2" fill="#f0e440" opacity="0.34"/><rect x="106" y="237.1" width="16.7" height="2.5" fill="#f0e440" opacity="0.34"/><rect x="106" y="241.8" width="20.8" height="2.3" fill="#f0e440" opacity="0.34"/><rect x="106" y="245.9" width="29.8" height="2.2" fill="#f0e440" opacity="0.34"/><rect x="106" y="250.2" width="43.8" height="2.4" fill="#f0e440" opacity="0.34"/><rect x="106" y="254.6" width="48.8" height="2.5" fill="#f0e440" opacity="0.34"/><rect x="106" y="259.3" width="68.8" height="2.5" fill="#f0e440" opacity="0.34"/><rect x="106" y="263.7" width="61.7" height="2.4" fill="#f0e440" opacity="0.34"/><rect x="106" y="268.2" width="60.7" height="2.4" fill="#f0e440" opacity="0.34"/><rect x="106" y="272.6" width="58.7" height="2.5" fill="#f0e440" opacity="0.34"/><rect x="106" y="277.1" width="57.7" height="2.7" fill="#f0e440" opacity="0.34"/><rect x="106" y="281.9" width="60.7" height="2.7" fill="#f0e440" opacity="0.34"/><rect x="106" y="286.6" width="67.7" height="2.6" fill="#f0e440" opacity="0.34"/><rect x="106" y="291.2" width="70.8" height="2.7" fill="#f0e440" opacity="0.34"/><rect x="106" y="296.1" width="58.7" height="2.6" fill="#f0e440" opacity="0.34"/><rect x="106" y="300.6" width="42.7" height="2.5" fill="#f0e440" opacity="0.34"/><rect x="106" y="305.1" width="30.6" height="2.7" fill="#f0e440" opacity="0.34"/><rect x="106" y="310" width="26.6" height="2.7" fill="#f0e440" opacity="0.34"/><rect x="106" y="314.7" width="21.8" height="2.5" fill="#f0e440" opacity="0.34"/><rect x="106" y="319" width="12.7" height="2.7" fill="#f0e440" opacity="0.34"/><rect x="106" y="323.9" width="13.7" height="3" fill="#f0e440" opacity="0.34"/><rect x="106" y="329" width="16.7" height="2.9" fill="#f0e440" opacity="0.34"/><rect x="106" y="333.9" width="24.6" height="2.9" fill="#f0e440" opacity="0.34"/><rect x="106" y="338.8" width="38.7" height="3" fill="#f0e440" opacity="0.34"/><rect x="106" y="343.9" width="48.8" height="3" fill="#f0e440" opacity="0.34"/><rect x="106" y="348.9" width="48.8" height="3" fill="#f0e440" opacity="0.34"/><rect x="106" y="354" width="54.6" height="3" fill="#f0e440" opacity="0.34"/><rect x="106" y="359" width="2" height="3" fill="#b8a848" opacity="0.82"/><rect x="108" y="359" width="64.7" height="3" fill="#f0e030" opacity="0.8"/><rect x="106" y="364" width="33.9" height="3" fill="#b8a848" opacity="0.82"/><rect x="139.9" y="364" width="47.8" height="3" fill="#f0e030" opacity="0.8"/><rect x="106" y="369.1" width="44.8" height="2.9" fill="#b8a848" opacity="0.82"/><rect x="150.8" y="369.1" width="66.9" height="2.9" fill="#f0e030" opacity="0.8"/><rect x="106" y="374" width="54.6" height="2.9" fill="#b8a848" opacity="0.82"/><rect x="160.6" y="374" width="86.1" height="2.9" fill="#f0e030" opacity="0.8"/><rect x="106" y="379" width="70.8" height="3" fill="#b8a848" opacity="0.82"/><rect x="176.8" y="379" width="98" height="3" fill="#f0e030" opacity="0.8"/><rect x="106" y="383.9" width="82.7" height="3.2" fill="#b8a848" opacity="0.82"/><rect x="188.7" y="383.9" width="101" height="3.2" fill="#f0e030" opacity="0.8"/><rect x="106" y="389.2" width="99.8" height="3.4" fill="#b8a848" opacity="0.82"/><rect x="205.8" y="389.2" width="108.9" height="3.4" fill="#f0e030" opacity="0.8"/><rect x="106" y="394.8" width="120.8" height="3.2" fill="#b8a848" opacity="0.82"/><rect x="226.8" y="394.8" width="117.9" height="3.2" fill="#f0e030" opacity="0.8"/><rect x="106" y="399.9" width="116.7" height="3" fill="#b8a848" opacity="0.82"/><rect x="222.7" y="399.9" width="141.9" height="3" fill="#f0e030" opacity="0.8"/><rect x="106" y="404.8" width="121.8" height="3.3" fill="#b8a848" opacity="0.82"/><rect x="227.8" y="404.8" width="153" height="3.3" fill="#f0e030" opacity="0.8"/><rect x="106" y="410.4" width="117.7" height="3.5" fill="#b8a848" opacity="0.82"/><rect x="223.7" y="410.4" width="156" height="3.5" fill="#f0e030" opacity="0.8"/><rect x="106" y="415.9" width="117.7" height="3.4" fill="#b8a848" opacity="0.82"/><rect x="223.7" y="415.9" width="153" height="3.4" fill="#f0e030" opacity="0.8"/><rect x="106" y="421.3" width="124.8" height="3.4" fill="#b8a848" opacity="0.82"/><rect x="230.8" y="421.3" width="144" height="3.4" fill="#f0e030" opacity="0.8"/><rect x="106" y="426.8" width="143.8" height="3.2" fill="#b8a848" opacity="0.82"/><rect x="249.8" y="426.8" width="139.1" height="3.2" fill="#f0e030" opacity="0.8"/><rect x="106" y="431.9" width="139.7" height="3.2" fill="#b8a848" opacity="0.82"/><rect x="245.7" y="431.9" width="130" height="3.2" fill="#f0e030" opacity="0.8"/><rect x="106" y="437.2" width="141.7" height="3.4" fill="#b8a848" opacity="0.82"/><rect x="247.7" y="437.2" width="121" height="3.4" fill="#f0e030" opacity="0.8"/><rect x="106" y="442.6" width="132.7" height="3.5" fill="#b8a848" opacity="0.82"/><rect x="238.7" y="442.6" width="138.1" height="3.5" fill="#f0e030" opacity="0.8"/><rect x="106" y="448.2" width="148.8" height="3.7" fill="#b8a848" opacity="0.82"/><rect x="254.8" y="448.2" width="171" height="3.7" fill="#f0e030" opacity="0.8"/><rect x="106" y="454" width="176.8" height="3.7" fill="#b8a848" opacity="0.82"/><rect x="282.8" y="454" width="183.1" height="3.7" fill="#f0e030" opacity="0.8"/><rect x="106" y="459.8" width="185.9" height="3.5" fill="#b8a848" opacity="0.82"/><rect x="291.9" y="459.8" width="178" height="3.5" fill="#f0e030" opacity="0.8"/><rect x="106" y="465.1" width="186.9" height="3.7" fill="#b8a848" opacity="0.82"/><rect x="292.9" y="465.1" width="176" height="3.7" fill="#f0e030" opacity="0.8"/><rect x="106" y="471" width="175.8" height="4" fill="#b8a848" opacity="0.82"/><rect x="281.8" y="471" width="167.9" height="4" fill="#f0e030" opacity="0.8"/><rect x="106" y="477.2" width="147.8" height="3.7" fill="#b8a848" opacity="0.82"/><rect x="253.8" y="477.2" width="148" height="3.7" fill="#f0e030" opacity="0.8"/><rect x="106" y="482.8" width="138.7" height="3.4" fill="#b8a848" opacity="0.82"/><rect x="244.7" y="482.8" width="163.1" height="3.4" fill="#f0e030" opacity="0.8"/><rect x="106" y="487.9" width="117.7" height="4" fill="#b8a848" opacity="0.82"/><rect x="223.7" y="487.9" width="130" height="4" fill="#f0e030" opacity="0.8"/><rect x="106" y="494.6" width="104.8" height="4" fill="#b8a848" opacity="0.82"/><rect x="210.8" y="494.6" width="121" height="4" fill="#f0e030" opacity="0.8"/><rect x="106" y="500.2" width="103.8" height="3.7" fill="#b8a848" opacity="0.82"/><rect x="209.8" y="500.2" width="124" height="3.7" fill="#f0e030" opacity="0.8"/><rect x="106" y="506.1" width="113.9" height="3.9" fill="#b8a848" opacity="0.82"/><rect x="219.9" y="506.1" width="124.8" height="3.9" fill="#f0e030" opacity="0.8"/><rect x="106" y="512" width="126.8" height="3.9" fill="#b8a848" opacity="0.82"/><rect x="232.8" y="512" width="127.8" height="3.9" fill="#f0e030" opacity="0.8"/><rect x="106" y="518" width="145.8" height="4" fill="#b8a848" opacity="0.82"/><rect x="251.8" y="518" width="123" height="4" fill="#f0e030" opacity="0.8"/><rect x="106" y="524.1" width="138.7" height="3.9" fill="#b8a848" opacity="0.82"/><rect x="244.7" y="524.1" width="133.1" height="3.9" fill="#f0e030" opacity="0.8"/><rect x="106" y="529.9" width="137.7" height="3.9" fill="#b8a848" opacity="0.82"/><rect x="243.7" y="529.9" width="138.1" height="3.9" fill="#f0e030" opacity="0.8"/><rect x="106" y="535.9" width="118.8" height="4.1" fill="#b8a848" opacity="0.82"/><rect x="224.8" y="535.9" width="147" height="4.1" fill="#f0e030" opacity="0.8"/><rect x="106" y="542" width="122.8" height="4.5" fill="#b8a848" opacity="0.82"/><rect x="228.8" y="542" width="153" height="4.5" fill="#f0e030" opacity="0.8"/><rect x="106" y="548.7" width="136.7" height="4.4" fill="#b8a848" opacity="0.82"/><rect x="242.7" y="548.7" width="146.2" height="4.4" fill="#f0e030" opacity="0.8"/><rect x="106" y="554.7" width="149.8" height="4.4" fill="#b8a848" opacity="0.82"/><rect x="255.8" y="554.7" width="146" height="4.4" fill="#f0e030" opacity="0.8"/><rect x="106" y="561.3" width="203.8" height="4.6" fill="#b8a848" opacity="0.82"/><rect x="309.8" y="561.3" width="189.9" height="4.6" fill="#f0e030" opacity="0.8"/><rect x="106" y="567.7" width="238.7" height="4.6" fill="#b8a848" opacity="0.82"/><rect x="344.7" y="567.7" width="211.1" height="4.6" fill="#f0e030" opacity="0.8"/><rect x="106" y="574.4" width="209.7" height="4.6" fill="#e8924e"/><rect x="315.7" y="574.4" width="247.2" height="4.6" fill="#f5b41e" opacity="0.95"/><rect x="106" y="580.9" width="198.8" height="4.4" fill="#b8a848" opacity="0.82"/><rect x="304.8" y="580.9" width="256" height="4.4" fill="#f0e030" opacity="0.8"/><rect x="106" y="587.2" width="204.8" height="4.4" fill="#b8a848" opacity="0.82"/><rect x="310.8" y="587.2" width="228" height="4.4" fill="#f0e030" opacity="0.8"/><rect x="106" y="593.5" width="223.8" height="4.6" fill="#b8a848" opacity="0.82"/><rect x="329.8" y="593.5" width="221" height="4.6" fill="#f0e030" opacity="0.8"/><rect x="106" y="600" width="212.7" height="4.9" fill="#b8a848" opacity="0.82"/><rect x="318.7" y="600" width="210.1" height="4.9" fill="#f0e030" opacity="0.8"/><rect x="106" y="607.1" width="183.7" height="4.8" fill="#b8a848" opacity="0.82"/><rect x="289.7" y="607.1" width="181" height="4.8" fill="#f0e030" opacity="0.8"/><rect x="106" y="613.7" width="159.7" height="4.5" fill="#b8a848" opacity="0.82"/><rect x="265.7" y="613.7" width="153" height="4.5" fill="#f0e030" opacity="0.8"/><rect x="106" y="620.1" width="123.8" height="4.7" fill="#b8a848" opacity="0.82"/><rect x="229.8" y="620.1" width="134.9" height="4.7" fill="#f0e030" opacity="0.8"/><rect x="106" y="626.7" width="106.9" height="5.1" fill="#b8a848" opacity="0.82"/><rect x="212.9" y="626.7" width="111.9" height="5.1" fill="#f0e030" opacity="0.8"/><rect x="106" y="634" width="113.9" height="5.2" fill="#b8a848" opacity="0.82"/><rect x="219.9" y="634" width="116.9" height="5.2" fill="#f0e030" opacity="0.8"/><rect x="106" y="641.1" width="102.8" height="5" fill="#b8a848" opacity="0.82"/><rect x="208.8" y="641.1" width="125" height="5" fill="#f0e030" opacity="0.8"/><rect x="106" y="648" width="110.9" height="4.9" fill="#b8a848" opacity="0.82"/><rect x="216.9" y="648" width="150.8" height="4.9" fill="#f0e030" opacity="0.8"/><rect x="106" y="654.8" width="127.8" height="5" fill="#b8a848" opacity="0.82"/><rect x="233.8" y="654.8" width="153" height="5" fill="#f0e030" opacity="0.8"/><rect x="106" y="661.7" width="135.7" height="5.4" fill="#b8a848" opacity="0.82"/><rect x="241.7" y="661.7" width="188.1" height="5.4" fill="#f0e030" opacity="0.8"/><rect x="106" y="669.3" width="152.8" height="5.5" fill="#b8a848" opacity="0.82"/><rect x="258.8" y="669.3" width="202" height="5.5" fill="#f0e030" opacity="0.8"/><rect x="106" y="676.6" width="174.8" height="5.3" fill="#b8a848" opacity="0.82"/><rect x="280.8" y="676.6" width="176" height="5.3" fill="#f0e030" opacity="0.8"/><rect x="106" y="683.9" width="169.8" height="5.4" fill="#b8a848" opacity="0.82"/><rect x="275.8" y="683.9" width="144" height="5.4" fill="#f0e030" opacity="0.8"/><rect x="106" y="691.3" width="170.8" height="5.5" fill="#b8a848" opacity="0.82"/><rect x="276.8" y="691.3" width="146" height="5.5" fill="#f0e030" opacity="0.8"/><rect x="106" y="698.7" width="168.8" height="5.5" fill="#b8a848" opacity="0.82"/><rect x="274.8" y="698.7" width="135.1" height="5.5" fill="#f0e030" opacity="0.8"/><rect x="106" y="706.1" width="157.9" height="5.6" fill="#b8a848" opacity="0.82"/><rect x="263.9" y="706.1" width="125" height="5.6" fill="#f0e030" opacity="0.8"/><rect x="106" y="713.8" width="133.9" height="5.6" fill="#b8a848" opacity="0.82"/><rect x="239.9" y="713.8" width="113.9" height="5.6" fill="#f0e030" opacity="0.8"/><rect x="106" y="721.2" width="130.8" height="5.7" fill="#b8a848" opacity="0.82"/><rect x="236.8" y="721.2" width="101" height="5.7" fill="#f0e030" opacity="0.8"/><rect x="106" y="729" width="107.9" height="5.8" fill="#b8a848" opacity="0.82"/><rect x="213.9" y="729" width="96" height="5.8" fill="#f0e030" opacity="0.8"/><rect x="106" y="736.8" width="71.8" height="5.6" fill="#b8a848" opacity="0.82"/><rect x="177.8" y="736.8" width="88.9" height="5.6" fill="#f0e030" opacity="0.8"/><rect x="106" y="744.1" width="57.7" height="5.8" fill="#b8a848" opacity="0.82"/><rect x="163.7" y="744.1" width="101" height="5.8" fill="#f0e030" opacity="0.8"/><rect x="106" y="752.1" width="52.8" height="6" fill="#b8a848" opacity="0.82"/><rect x="158.8" y="752.1" width="81" height="6" fill="#f0e030" opacity="0.8"/><rect x="106" y="760" width="66.7" height="5.9" fill="#b8a848" opacity="0.82"/><rect x="172.7" y="760" width="89.1" height="5.9" fill="#f0e030" opacity="0.8"/><rect x="106" y="767.8" width="67.7" height="6" fill="#b8a848" opacity="0.82"/><rect x="173.7" y="767.8" width="77" height="6" fill="#f0e030" opacity="0.8"/><rect x="106" y="775.7" width="46.8" height="6.3" fill="#b8a848" opacity="0.82"/><rect x="152.8" y="775.7" width="53" height="6.3" fill="#f0e030" opacity="0.8"/><rect x="106" y="784.1" width="36.7" height="6.6" fill="#b8a848" opacity="0.82"/><rect x="142.7" y="784.1" width="26" height="6.6" fill="#f0e030" opacity="0.8"/><rect x="106" y="793.1" width="26.8" height="5.9" fill="#b8a848" opacity="0.82"/><rect x="132.8" y="793.1" width="35.9" height="5.9" fill="#f0e030" opacity="0.8"/><rect x="106" y="799.9" width="43.8" height="6.3" fill="#b8a848" opacity="0.82"/><rect x="149.8" y="799.9" width="60.1" height="6.3" fill="#f0e030" opacity="0.8"/><rect x="106" y="809" width="66.7" height="7.2" fill="#b8a848" opacity="0.82"/><rect x="172.7" y="809" width="72" height="7.2" fill="#f0e030" opacity="0.8"/><rect x="106" y="818.1" width="78.6" height="6.7" fill="#b8a848" opacity="0.82"/><rect x="184.6" y="818.1" width="73.2" height="6.7" fill="#f0e030" opacity="0.8"/><rect x="106" y="826.6" width="67.7" height="6.6" fill="#b8a848" opacity="0.82"/><rect x="173.7" y="826.6" width="81" height="6.6" fill="#f0e030" opacity="0.8"/><rect x="106" y="835.2" width="49.8" height="6.8" fill="#b8a848" opacity="0.82"/><rect x="155.8" y="835.2" width="78" height="6.8" fill="#f0e030" opacity="0.8"/><rect x="106" y="844" width="57.7" height="6.9" fill="#b8a848" opacity="0.82"/><rect x="163.7" y="844" width="58.1" height="6.9" fill="#f0e030" opacity="0.8"/><rect x="106" y="852.9" width="65.7" height="6.9" fill="#b8a848" opacity="0.82"/><rect x="171.7" y="852.9" width="43.1" height="6.9" fill="#f0e030" opacity="0.8"/><rect x="106" y="861.7" width="72.8" height="7" fill="#b8a848" opacity="0.82"/><rect x="178.8" y="861.7" width="40.9" height="7" fill="#f0e030" opacity="0.8"/><rect x="106" y="870.7" width="69.8" height="7.1" fill="#b8a848" opacity="0.82"/><rect x="175.8" y="870.7" width="46" height="7.1" fill="#f0e030" opacity="0.8"/><rect x="106" y="879.6" width="80.6" height="7.4" fill="#b8a848" opacity="0.82"/><rect x="186.6" y="879.6" width="59.1" height="7.4" fill="#f0e030" opacity="0.8"/><rect x="106" y="889.2" width="82.7" height="7.6" fill="#b8a848" opacity="0.82"/><rect x="188.7" y="889.2" width="89.1" height="7.6" fill="#f0e030" opacity="0.8"/><rect x="106" y="898.8" width="88.7" height="7.3" fill="#b8a848" opacity="0.82"/><rect x="194.7" y="898.8" width="134.1" height="7.3" fill="#f0e030" opacity="0.8"/><rect x="106" y="907.9" width="110.9" height="7.3" fill="#b8a848" opacity="0.82"/><rect x="216.9" y="907.9" width="129.8" height="7.3" fill="#f0e030" opacity="0.8"/><rect x="106" y="917.3" width="114.7" height="7.5" fill="#b8a848" opacity="0.82"/><rect x="220.7" y="917.3" width="91.9" height="7.5" fill="#f0e030" opacity="0.8"/><rect x="106" y="926.3" width="106.9" height="8.4" fill="#b8a848" opacity="0.82"/><rect x="212.9" y="926.3" width="86.7" height="8.4" fill="#f0e030" opacity="0.8"/><rect x="106" y="937.6" width="195.6" height="8.4" fill="#f0dc30" opacity="0.3"/><rect x="106" y="947.5" width="255.6" height="7.6" fill="#f0dc30" opacity="0.3"/><rect x="106" y="957" width="265.7" height="7.8" fill="#f0dc30" opacity="0.3"/><rect x="106" y="966.8" width="189.5" height="8" fill="#f0dc30" opacity="0.3"/><rect x="106" y="976.7" width="86.7" height="8.4" fill="#f0dc30" opacity="0.3"/><rect x="106" y="987.3" width="67.7" height="8.6" fill="#f0dc30" opacity="0.3"/><rect x="106" y="997.8" width="42.7" height="8.6" fill="#f0dc30" opacity="0.3"/><rect x="106" y="1008.3" width="35.7" height="8.8" fill="#f0dc30" opacity="0.3"/><rect x="106" y="1019.2" width="25.8" height="8.9" fill="#f0dc30" opacity="0.3"/><rect x="106" y="1030" width="17.7" height="9" fill="#f0dc30" opacity="0.3"/><rect x="106" y="1041.1" width="17.7" height="9" fill="#f0dc30" opacity="0.3"/><rect x="106" y="1051.8" width="24.8" height="9.4" fill="#f0dc30" opacity="0.3"/><rect x="106" y="1063.6" width="68.3" height="9.5" fill="#f0dc30" opacity="0.3"/><rect x="106" y="1074.7" width="46.6" height="9.3" fill="#f0dc30" opacity="0.3"/><rect x="106" y="1086.1" width="132.5" height="9.7" fill="#f0dc30" opacity="0.3"/><rect x="106" y="1097.8" width="198.5" height="10" fill="#f0dc30" opacity="0.3"/><rect x="106" y="1109.9" width="175.8" height="10" fill="#f0dc30" opacity="0.3"/><rect x="106" y="1121.6" width="215.6" height="10.2" fill="#f0dc30" opacity="0.3"/><rect x="106" y="1134" width="246.3" height="10.6" fill="#f0dc30" opacity="0.3"/><rect x="106" y="1146.8" width="135.5" height="10.3" fill="#f0dc30" opacity="0.3"/><rect x="106" y="1158.7" width="47.4" height="10.6" fill="#f0dc30" opacity="0.3"/><rect x="106" y="1171.5" width="64.5" height="11.2" fill="#f0dc30" opacity="0.3"/><rect x="106" y="1184.9" width="199.7" height="11.2" fill="#f0dc30" opacity="0.3"/><rect x="106" y="1197.8" width="332" height="11.5" fill="#f0dc30" opacity="0.3"/><rect x="106" y="1211.5" width="373.6" height="11.9" fill="#f0dc30" opacity="0.3"/><rect x="106" y="1225.8" width="444.8" height="11" fill="#f0dc30" opacity="0.3"/><rect x="106" y="1238.3" width="332" height="10.1" fill="#f0dc30" opacity="0.3"/>
<line x1="1100" y1="208" x2="2450" y2="208" stroke="#b4b4b4" stroke-width="4" stroke-dasharray="4 8"/>
<line x1="1409" y1="503" x2="2450" y2="503" stroke="#f8e835" stroke-width="4"/>
<line x1="361" y1="904.3" x2="2450" y2="904.3" stroke="#f3ed6a" stroke-width="2.4"/>
<line x1="266" y1="1158" x2="2450" y2="1158" stroke="#f3ed6a" stroke-width="2.4"/>
<circle cx="1642.5" cy="897.6" r="45.5" fill="none" stroke="#f5a536" stroke-width="3.2"/>
<path d="M1703.5 839.5 C1698 829 1691 826.5 1686.5 827.5 C1676 831 1668 858 1659.2 894.6 M1642.4 870.3 L1659.2 894.8 L1684 877.5" fill="none" stroke="#f6c3d3" stroke-width="2.6" stroke-linecap="round" stroke-linejoin="round"/>
<path d="M1660 977.5 C1661.5 970 1666.5 968.5 1670 973.5 C1674 980 1677.5 991.5 1681.5 991.2 C1686 990.5 1687.5 969 1690 968 C1692.5 967.5 1692.5 987 1695.5 987.3 C1699.5 987 1702.5 947.5 1706 947 C1709.5 947 1714.5 981 1718.4 981 C1722.5 980.5 1723.5 916.5 1727 916 C1731 916 1733 1061 1738.5 1061.5 C1742.5 1061.5 1746.5 1031 1750.5 1031 C1754.5 1031.5 1757.5 1070 1761.6 1070 C1765.5 1069.5 1770 1047 1775 1046.7 C1782 1048 1791 1105 1795 1147 M1762.8 1116 L1795.2 1148 L1824.5 1116" fill="none" stroke="#e0982e" stroke-width="5.6" stroke-linecap="round" stroke-linejoin="round"/>
<circle cx="1654.1" cy="1222.9" r="19.3" fill="#161416" stroke="#be50d2" stroke-width="3.2"/>
<path d="M1660.2 1212.3 L1645.5 1223.8 L1654.1 1225 L1647.6 1233.8 L1662.9 1222 L1655 1221 Z" fill="#c455d8"/>
<text x="1095.6" y="193.4" font-size="44" font-weight="700" font-style="italic" fill="#8b8b8b" textLength="131.8" lengthAdjust="spacingAndGlyphs">swing</text>
<text x="1239.7" y="193.4" font-size="44" font-weight="700" font-style="italic" fill="#8b8b8b" textLength="101.5" lengthAdjust="spacingAndGlyphs">high</text>
<text x="567" y="333.1" font-size="53" font-weight="700" font-style="italic" fill="#8b8b8b" textLength="141.4" lengthAdjust="spacingAndGlyphs">value</text>
<text x="721.9" y="333.1" font-size="53" font-weight="700" font-style="italic" fill="#8b8b8b" textLength="115.7" lengthAdjust="spacingAndGlyphs">area</text>
<text x="848.4" y="333.1" font-size="53" font-weight="700" font-style="italic" fill="#8b8b8b" textLength="120" lengthAdjust="spacingAndGlyphs">high</text>
<text x="846.6" y="629.1" font-size="45.5" font-weight="700" font-style="italic" fill="#8b8b8b" textLength="116.5" lengthAdjust="spacingAndGlyphs">point</text>
<text x="975.3" y="629.1" font-size="45.5" font-weight="700" font-style="italic" fill="#8b8b8b" textLength="45.3" lengthAdjust="spacingAndGlyphs">of</text>
<text x="1033.6" y="629.1" font-size="45.5" font-weight="700" font-style="italic" fill="#8b8b8b" textLength="160.9" lengthAdjust="spacingAndGlyphs">control</text>
<text x="774" y="996.5" font-size="53" font-weight="700" font-style="italic" fill="#8b8b8b" textLength="141.2" lengthAdjust="spacingAndGlyphs">value</text>
<text x="927.8" y="996.5" font-size="53" font-weight="700" font-style="italic" fill="#8b8b8b" textLength="117" lengthAdjust="spacingAndGlyphs">area</text>
<text x="1055.3" y="996.5" font-size="53" font-weight="700" font-style="italic" fill="#8b8b8b" textLength="91.6" lengthAdjust="spacingAndGlyphs">low</text>
<text x="1485.7" y="484.8" font-size="53" font-weight="700" font-style="italic" fill="#c9291b" textLength="68.6" lengthAdjust="spacingAndGlyphs">htf</text>
<text x="1578.6" y="484.8" font-size="53" font-weight="700" font-style="italic" fill="#c9291b" textLength="264.8" lengthAdjust="spacingAndGlyphs">resistance</text>
<text x="1864.5" y="484.8" font-size="53" font-weight="700" font-style="italic" fill="#c9291b" textLength="22.7" lengthAdjust="spacingAndGlyphs">-</text>
<text x="1904.7" y="484.8" font-size="53" font-weight="700" font-style="italic" fill="#c9291b" textLength="195.4" lengthAdjust="spacingAndGlyphs">$42.22</text>
<text x="1713.4" y="881.2" font-size="44.5" font-weight="700" font-style="italic" fill="#e2b2ca" textLength="89.5" lengthAdjust="spacingAndGlyphs">$26</text>
<text x="1815.2" y="881.2" font-size="44.5" font-weight="700" font-style="italic" fill="#e2b2ca" textLength="62.6" lengthAdjust="spacingAndGlyphs">htf</text>
<text x="1891" y="881.2" font-size="44.5" font-weight="700" font-style="italic" fill="#e2b2ca" textLength="180.9" lengthAdjust="spacingAndGlyphs">support</text>
<text x="2080.6" y="881.2" font-size="44.5" font-weight="700" font-style="italic" fill="#e2b2ca" textLength="83.9" lengthAdjust="spacingAndGlyphs">lost</text>
<text x="1844" y="1140.5" font-size="53" font-weight="700" font-style="italic" fill="#108b1f" textLength="73.5" lengthAdjust="spacingAndGlyphs">htf</text>
<text x="1931.6" y="1140.5" font-size="53" font-weight="700" font-style="italic" fill="#108b1f" textLength="209.6" lengthAdjust="spacingAndGlyphs">support</text>
<text x="2154.5" y="1140.5" font-size="53" font-weight="700" font-style="italic" fill="#108b1f" textLength="25.2" lengthAdjust="spacingAndGlyphs">-</text>
<text x="2195.4" y="1140.5" font-size="53" font-weight="700" font-style="italic" fill="#108b1f" textLength="195.8" lengthAdjust="spacingAndGlyphs">$19.75</text>
</g>
<text x="36.3" y="98.4" font-size="24" fill="#4b4b56" textLength="372" lengthAdjust="spacingAndGlyphs">Hyperliquid / Tether · 1D · KuCoin</text>
<text x="422.3" y="98.4" font-size="24" fill="#e23a2f" textLength="188.2" lengthAdjust="spacingAndGlyphs">−0.107 (−0.44%)</text>
<rect x="2450" y="54.5" width="2" height="1514.3" fill="#4c4c5a"/>
<rect x="20.5" y="1513.7" width="2573" height="2" fill="#4c4c5a"/>
<text x="2469.5" y="282.9" font-size="24" fill="#50505b" textLength="80" lengthAdjust="spacing">55.000</text>
<text x="2469.5" y="348" font-size="24" fill="#50505b" textLength="80" lengthAdjust="spacing">51.000</text>
<text x="2469.5" y="418.5" font-size="24" fill="#50505b" textLength="80" lengthAdjust="spacing">47.000</text>
<text x="2469.5" y="495.3" font-size="24" fill="#50505b" textLength="80" lengthAdjust="spacing">43.000</text>
<text x="2469.5" y="579.5" font-size="24" fill="#50505b" textLength="80" lengthAdjust="spacing">39.000</text>
<text x="2469.5" y="672.9" font-size="24" fill="#50505b" textLength="80" lengthAdjust="spacing">35.000</text>
<text x="2469.5" y="750.2" font-size="24" fill="#50505b" textLength="80" lengthAdjust="spacing">32.000</text>
<text x="2469.5" y="835.1" font-size="24" fill="#50505b" textLength="80" lengthAdjust="spacing">29.000</text>
<text x="2469.5" y="896.8" font-size="24" fill="#50505b" textLength="80" lengthAdjust="spacing">27.000</text>
<text x="2469.5" y="963.2" font-size="24" fill="#50505b" textLength="80" lengthAdjust="spacing">25.000</text>
<text x="2469.5" y="1035.1" font-size="24" fill="#50505b" textLength="80" lengthAdjust="spacing">23.000</text>
<text x="2469.5" y="1113.6" font-size="24" fill="#50505b" textLength="80" lengthAdjust="spacing">21.000</text>
<text x="2469.5" y="1182" font-size="24" fill="#50505b" textLength="80" lengthAdjust="spacing">19.400</text>
<text x="2469.5" y="1246.6" font-size="24" fill="#50505b" textLength="80" lengthAdjust="spacing">18.000</text>
<text x="2469.5" y="1336.9" font-size="24" fill="#50505b" textLength="64.5" lengthAdjust="spacing">60.00</text>
<text x="2469.5" y="1420.1" font-size="24" fill="#50505b" textLength="64.5" lengthAdjust="spacing">40.00</text>
<text x="2469.5" y="1502.3" font-size="24" fill="#50505b" textLength="64.5" lengthAdjust="spacing">20.00</text>
<path d="M2452 190.9 H2557.5 a4 4 0 0 1 4 4 V220.9 a4 4 0 0 1 -4 4 H2452 Z" fill="#9c9c9c"/>
<text x="2469.5" y="216.5" font-size="24" fill="#000" textLength="80" lengthAdjust="spacing">59.402</text>
<path d="M2452 485.7 H2557.5 a4 4 0 0 1 4 4 V515.7 a4 4 0 0 1 -4 4 H2452 Z" fill="#fdec1c"/>
<text x="2469.5" y="511.3" font-size="24" fill="#000" textLength="80" lengthAdjust="spacing">42.222</text>
<path d="M2452 887.1 H2557.5 a4 4 0 0 1 4 4 V917.1 a4 4 0 0 1 -4 4 H2452 Z" fill="#fdec1c"/>
<text x="2469.5" y="912.7" font-size="24" fill="#000" textLength="80" lengthAdjust="spacing">26.521</text>
<path d="M2452 1141 H2557.5 a4 4 0 0 1 4 4 V1171 a4 4 0 0 1 -4 4 H2452 Z" fill="#fdec1c"/>
<text x="2469.5" y="1166.6" font-size="24" fill="#000" textLength="80" lengthAdjust="spacing">19.750</text>
<path d="M2452 959 H2580 a4 4 0 0 1 4 4 V1016.7 a4 4 0 0 1 -4 4 H2452 Z" fill="#d52b1d"/>
<text x="2469.5" y="984" font-size="24" fill="#fff" textLength="80" lengthAdjust="spacing">24.378</text>
<text x="2469.5" y="1012.5" font-size="24" fill="#f6c6c1" textLength="100" lengthAdjust="spacing">10:31:11</text>
<rect x="2458" y="62.3" width="128" height="52" rx="9" fill="#0f0f10" stroke="#2c2c32" stroke-width="1.6"/>
<text x="2477" y="96.5" font-size="24" fill="#dcdce0" textLength="62.5" lengthAdjust="spacingAndGlyphs">USDT</text>
<rect x="20.5" y="1247.5" width="2573" height="2.3" fill="#f6f6fa"/>
<text x="65.8" y="1552" font-size="24" fill="#50505b" text-anchor="middle" letter-spacing="0.6">Apr</text>
<text x="248.1" y="1552" font-size="24" fill="#50505b" text-anchor="middle" letter-spacing="0.6">May</text>
<text x="437" y="1552" font-size="24" fill="#50505b" text-anchor="middle" letter-spacing="0.6">Jun</text>
<text x="619.8" y="1552" font-size="24" fill="#50505b" text-anchor="middle" letter-spacing="0.6">Jul</text>
<text x="808.1" y="1552" font-size="24" fill="#50505b" text-anchor="middle" letter-spacing="0.6">Aug</text>
<text x="996.9" y="1552" font-size="24" fill="#50505b" text-anchor="middle" letter-spacing="0.6">Sep</text>
<text x="1179.2" y="1552" font-size="24" fill="#50505b" text-anchor="middle" letter-spacing="0.6">Oct</text>
<text x="1367.6" y="1552" font-size="24" fill="#50505b" text-anchor="middle" letter-spacing="0.6">Nov</text>
<text x="1550" y="1552" font-size="24" fill="#50505b" text-anchor="middle" letter-spacing="0.6">Dec</text>
<text x="1707" y="1552" font-size="24" font-weight="700" fill="#6b6b77" textLength="64.5" lengthAdjust="spacingAndGlyphs">2026</text>
<text x="1927.2" y="1552" font-size="24" fill="#50505b" text-anchor="middle" letter-spacing="0.6">Feb</text>
<text x="2097.5" y="1552" font-size="24" fill="#50505b" text-anchor="middle" letter-spacing="0.6">Mar</text>
<text x="2286.1" y="1552" font-size="24" fill="#50505b" text-anchor="middle" letter-spacing="0.6">Apr</text>
<path d="M24.1 1614.4 H48.3 V1644 H36.1 V1626 H24.1 Z" fill="#111"/>
<circle cx="58.4" cy="1620.3" r="5.9" fill="#111"/>
<path d="M66.8 1614.4 H84 L72.4 1644 H57.7 Z" fill="#111"/>
<text x="97.5" y="1644" font-size="41" font-weight="700" fill="#111" textLength="242" lengthAdjust="spacingAndGlyphs">TradingView</text>
</svg>
</body></html>
